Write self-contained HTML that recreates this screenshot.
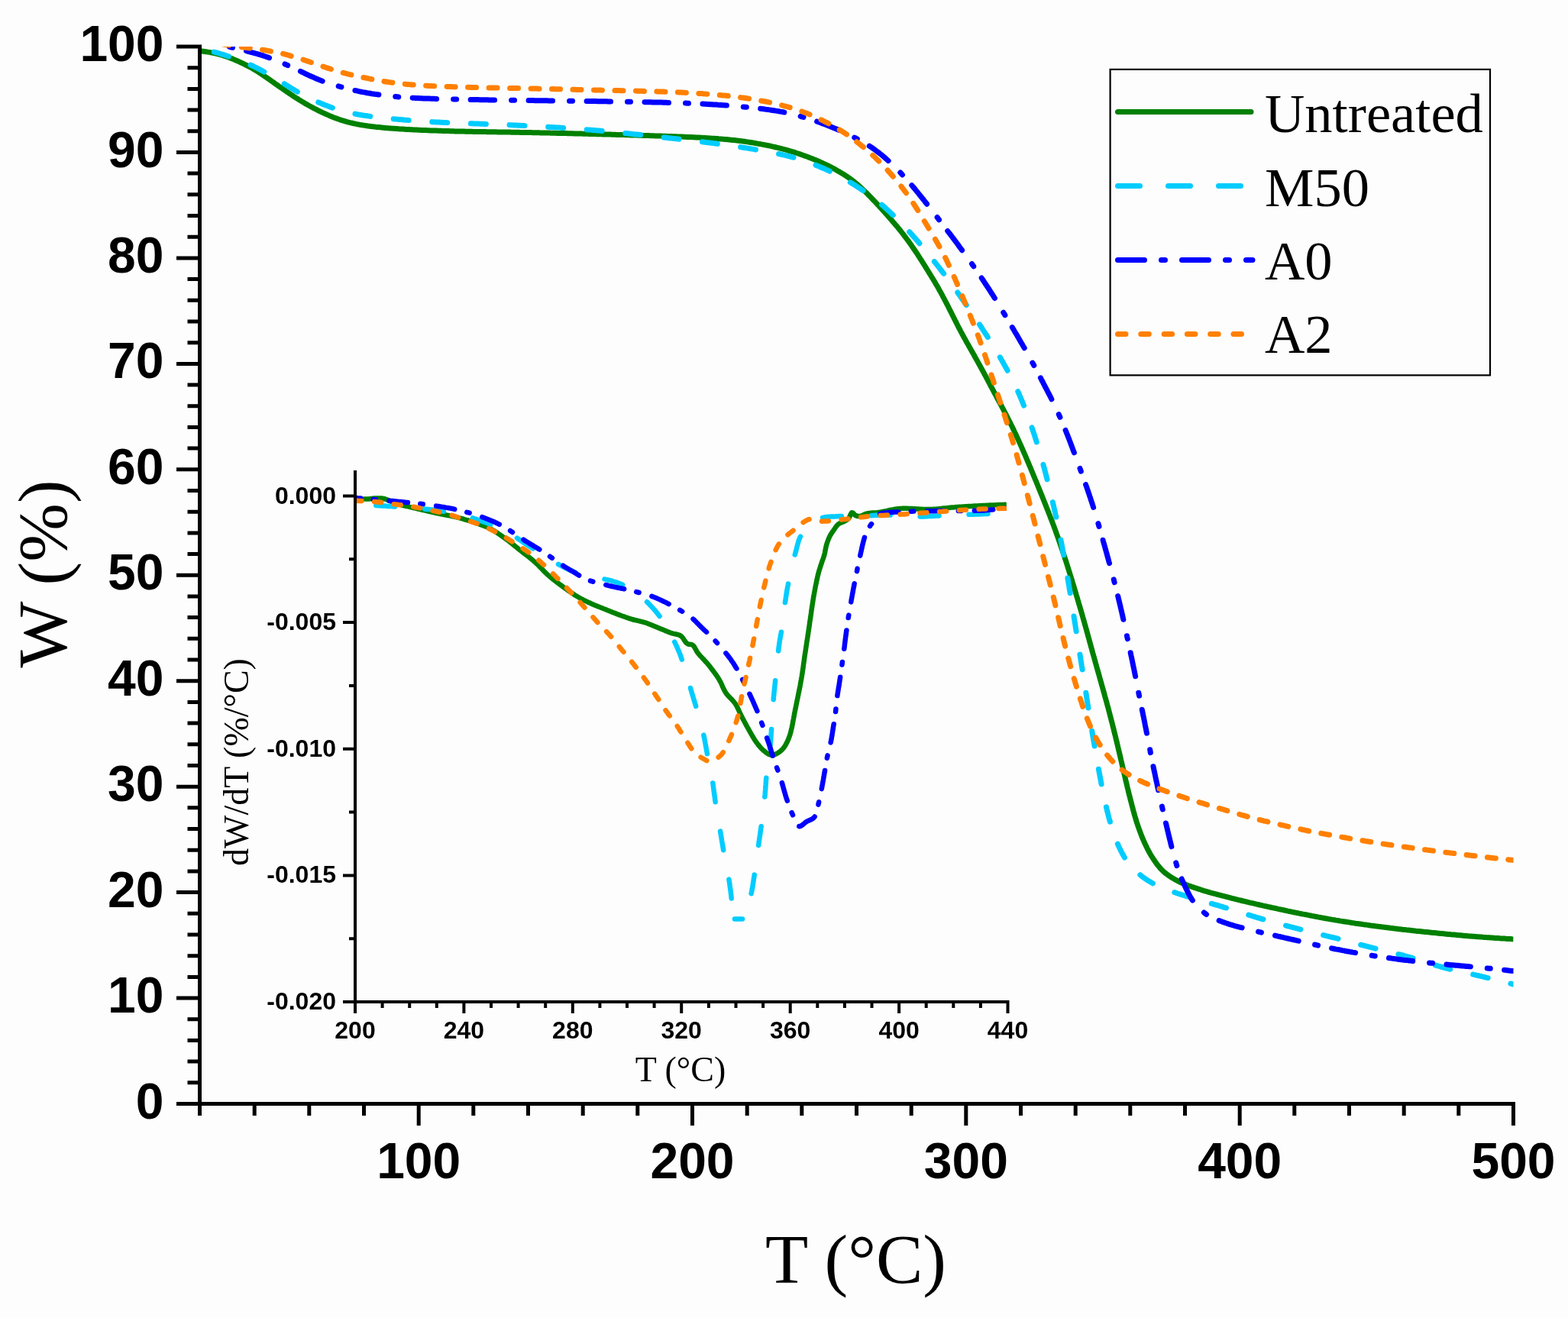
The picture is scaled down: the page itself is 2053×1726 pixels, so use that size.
<!DOCTYPE html>
<html><head><meta charset="utf-8"><title>TGA curves</title>
<style>html,body{margin:0;padding:0;background:#fdfdfd;}svg{display:block;}.sb{font-family:"Liberation Sans",Arial,sans-serif;font-weight:bold;fill:#000;}.sr{font-family:"Liberation Serif","Times New Roman",serif;fill:#000;}</style>
</head><body>
<svg width="2053" height="1726" viewBox="0 0 2053 1726">
<rect width="2053" height="1726" fill="#fdfdfd"/>
<defs><clipPath id="mclip"><rect x="261.5" y="61" width="1720" height="1384.5"/></clipPath><clipPath id="iclip"><rect x="465" y="600" width="853" height="712"/></clipPath></defs>
<g clip-path="url(#mclip)" fill="none" stroke-linejoin="round">
<path d="M262 66.6L264 66.9 265.9 67.2 267.9 67.5 269.9 67.8 271.9 68.1 273.8 68.4 275.8 68.8 277.8 69.1 279.7 69.5 281.7 69.9 283.6 70.4 285.6 70.9 287.5 71.4 289.4 71.9 291.4 72.5 293.3 73.1 295.2 73.7 297.1 74.3 299 75 300.8 75.7 302.7 76.4 304.6 77.1 306.4 77.9 308.2 78.7 310.1 79.5 311.9 80.3 313.7 81.1 315.5 82 317.3 82.8 319.1 83.7 320.9 84.6 322.7 85.5 324.5 86.4 326.2 87.3 328 88.3 329.8 89.3 331.5 90.2 333.2 91.3 334.9 92.3 336.6 93.3 338.3 94.4 340 95.5 341.7 96.6 343.3 97.7 345 98.8 346.6 100 348.3 101.1 349.9 102.2 351.6 103.3 353.2 104.5 354.8 105.6 356.5 106.8 358.1 107.9 359.7 109.1 361.4 110.3 363 111.4 364.6 112.6 366.3 113.7 367.9 114.8 369.6 116 371.2 117.1 372.9 118.2 374.5 119.4 376.1 120.5 377.8 121.6 379.4 122.8 381.1 123.9 382.8 125 384.4 126.1 386.1 127.2 387.8 128.2 389.5 129.3 391.2 130.4 392.9 131.4 394.6 132.5 396.3 133.5 398 134.5 399.7 135.6 401.5 136.6 403.2 137.6 404.9 138.5 406.7 139.5 408.4 140.4 410.2 141.4 412 142.3 413.8 143.2 415.5 144.1 417.3 145 419.1 145.9 420.9 146.8 422.7 147.6 424.6 148.4 426.4 149.3 428.2 150.1 430 150.9 431.9 151.7 433.7 152.4 435.6 153.2 437.4 153.9 439.3 154.7 441.2 155.3 443 156 444.9 156.7 446.8 157.3 448.7 157.9 450.7 158.5 452.6 159 454.5 159.6 456.4 160.1 458.4 160.6 460.3 161 462.3 161.5 464.2 161.9 466.2 162.4 468.1 162.7 470.1 163.1 472 163.5 474 163.8 476 164.1 478 164.4 479.9 164.7 481.9 165 483.9 165.2 485.9 165.5 487.9 165.7 489.9 165.9 491.8 166.2 493.8 166.4 495.8 166.6 497.8 166.8 499.8 167 501.8 167.2 503.8 167.4 505.8 167.6 507.8 167.7 509.8 167.9 511.7 168 513.7 168.2 515.7 168.3 517.7 168.5 519.7 168.6 521.7 168.7 523.7 168.9 525.7 169 527.7 169.1 529.7 169.2 531.7 169.4 533.7 169.5 535.7 169.6 537.7 169.7 539.7 169.8 541.7 169.9 543.7 170 545.7 170.1 547.7 170.2 549.6 170.3 551.6 170.4 553.6 170.5 555.6 170.5 557.6 170.6 559.6 170.7 561.6 170.8 563.6 170.9 565.6 170.9 567.6 171 569.6 171.1 571.6 171.1 573.6 171.2 575.6 171.3 577.6 171.3 579.6 171.4 581.6 171.5 583.6 171.5 585.6 171.6 587.6 171.6 589.6 171.7 591.6 171.8 593.6 171.8 595.6 171.9 597.6 171.9 599.6 171.9 601.6 172 603.6 172 605.6 172.1 607.6 172.1 609.6 172.2 611.6 172.2 613.6 172.3 615.6 172.3 617.6 172.3 619.6 172.4 621.6 172.4 623.6 172.4 625.6 172.5 627.6 172.5 629.6 172.5 631.6 172.6 633.6 172.6 635.6 172.6 637.6 172.7 639.6 172.7 641.6 172.7 643.5 172.7 645.5 172.8 647.5 172.8 649.5 172.8 651.5 172.9 653.5 172.9 655.5 172.9 657.5 173 659.5 173 661.5 173 663.5 173.1 665.5 173.1 667.5 173.1 669.5 173.2 671.5 173.2 673.5 173.2 675.5 173.3 677.5 173.3 679.5 173.3 681.5 173.4 683.5 173.4 685.5 173.5 687.5 173.5 689.5 173.5 691.5 173.6 693.5 173.6 695.5 173.6 697.5 173.7 699.5 173.7 701.5 173.8 703.5 173.8 705.5 173.8 707.5 173.9 709.5 173.9 711.5 174 713.5 174 715.5 174 717.5 174.1 719.5 174.1 721.5 174.2 723.5 174.2 725.5 174.3 727.5 174.3 729.5 174.4 731.5 174.4 733.5 174.4 735.5 174.5 737.5 174.5 739.5 174.6 741.5 174.6 743.5 174.7 745.5 174.7 747.5 174.8 749.5 174.8 751.5 174.9 753.5 174.9 755.4 175 757.4 175 759.4 175.1 761.4 175.1 763.4 175.2 765.4 175.2 767.4 175.3 769.4 175.3 771.4 175.4 773.4 175.4 775.4 175.5 777.4 175.5 779.4 175.6 781.4 175.7 783.4 175.7 785.4 175.8 787.4 175.8 789.4 175.9 791.4 175.9 793.4 176 795.4 176 797.4 176.1 799.4 176.1 801.4 176.2 803.4 176.2 805.4 176.3 807.4 176.4 809.4 176.4 811.4 176.5 813.4 176.5 815.4 176.6 817.4 176.6 819.4 176.7 821.4 176.8 823.4 176.8 825.4 176.9 827.4 176.9 829.4 177 831.4 177 833.4 177.1 835.4 177.2 837.4 177.2 839.4 177.3 841.4 177.4 843.4 177.4 845.4 177.5 847.4 177.5 849.3 177.6 851.3 177.7 853.3 177.7 855.3 177.8 857.3 177.9 859.3 177.9 861.3 178 863.3 178.1 865.3 178.1 867.3 178.2 869.3 178.3 871.3 178.3 873.3 178.4 875.3 178.5 877.3 178.6 879.3 178.6 881.3 178.7 883.3 178.8 885.3 178.8 887.3 178.9 889.3 179 891.3 179.1 893.3 179.1 895.3 179.2 897.3 179.3 899.3 179.4 901.3 179.4 903.3 179.5 905.3 179.6 907.3 179.7 909.3 179.8 911.3 179.9 913.3 180 915.3 180.1 917.3 180.2 919.2 180.3 921.2 180.4 923.2 180.5 925.2 180.7 927.2 180.8 929.2 180.9 931.2 181.1 933.2 181.2 935.2 181.3 937.2 181.5 939.2 181.6 941.2 181.8 943.2 181.9 945.2 182.1 947.2 182.2 949.2 182.4 951.1 182.6 953.1 182.8 955.1 183 957.1 183.2 959.1 183.4 961.1 183.6 963.1 183.8 965.1 184.1 967 184.3 969 184.6 971 184.8 973 185.1 975 185.3 976.9 185.6 978.9 185.9 980.9 186.2 982.9 186.5 984.8 186.8 986.8 187.1 988.8 187.5 990.8 187.8 992.7 188.2 994.7 188.5 996.7 188.9 998.6 189.2 1000.6 189.6 1002.5 190 1004.5 190.4 1006.5 190.8 1008.4 191.2 1010.4 191.7 1012.3 192.1 1014.3 192.5 1016.2 193 1018.2 193.4 1020.1 193.9 1022.1 194.4 1024 194.9 1025.9 195.4 1027.9 195.9 1029.8 196.4 1031.7 197 1033.6 197.5 1035.5 198.1 1037.5 198.7 1039.4 199.2 1041.3 199.8 1043.2 200.5 1045.1 201.1 1047 201.7 1048.9 202.4 1050.7 203 1052.6 203.7 1054.5 204.4 1056.4 205 1058.3 205.7 1060.1 206.5 1062 207.2 1063.9 207.9 1065.7 208.7 1067.6 209.4 1069.4 210.2 1071.2 211 1073.1 211.8 1074.9 212.6 1076.7 213.4 1078.5 214.3 1080.3 215.1 1082.1 216 1083.9 216.8 1085.7 217.7 1087.5 218.6 1089.3 219.6 1091.1 220.5 1092.8 221.4 1094.6 222.4 1096.3 223.4 1098 224.4 1099.8 225.4 1101.5 226.4 1103.2 227.4 1104.9 228.5 1106.6 229.6 1108.2 230.7 1109.9 231.8 1111.5 232.9 1113.2 234.1 1114.8 235.3 1116.4 236.5 1118 237.7 1119.5 239 1121 240.2 1122.6 241.5 1124.1 242.9 1125.5 244.2 1127 245.5 1128.5 246.9 1129.9 248.3 1131.4 249.6 1132.8 251 1134.3 252.4 1135.7 253.8 1137.1 255.3 1138.5 256.7 1139.9 258.1 1141.3 259.6 1142.6 261 1144 262.5 1145.4 263.9 1146.8 265.4 1148.1 266.8 1149.5 268.3 1150.8 269.8 1152.2 271.2 1153.5 272.7 1154.9 274.2 1156.2 275.7 1157.6 277.1 1158.9 278.6 1160.2 280.1 1161.6 281.6 1162.9 283.1 1164.2 284.6 1165.5 286.1 1166.8 287.6 1168.1 289.1 1169.4 290.7 1170.7 292.2 1172 293.7 1173.3 295.2 1174.6 296.8 1175.9 298.3 1177.1 299.9 1178.4 301.4 1179.6 303 1180.9 304.6 1182.1 306.1 1183.3 307.7 1184.5 309.3 1185.7 310.9 1186.9 312.5 1188.1 314.1 1189.3 315.7 1190.5 317.3 1191.6 318.9 1192.8 320.6 1193.9 322.2 1195.1 323.9 1196.2 325.5 1197.3 327.2 1198.5 328.8 1199.6 330.5 1200.7 332.1 1201.8 333.8 1202.9 335.5 1203.9 337.2 1205 338.9 1206.1 340.5 1207.2 342.2 1208.2 343.9 1209.3 345.6 1210.4 347.3 1211.4 349 1212.5 350.7 1213.5 352.4 1214.6 354.1 1215.6 355.8 1216.7 357.5 1217.7 359.2 1218.8 360.9 1219.8 362.6 1220.9 364.3 1221.9 366 1222.9 367.7 1224 369.4 1225 371.2 1226 372.9 1227 374.6 1228 376.3 1229 378.1 1229.9 379.8 1230.9 381.6 1231.9 383.3 1232.8 385.1 1233.8 386.8 1234.7 388.6 1235.7 390.4 1236.6 392.1 1237.5 393.9 1238.5 395.7 1239.4 397.5 1240.3 399.2 1241.2 401 1242.1 402.8 1243 404.6 1243.9 406.4 1244.8 408.2 1245.7 409.9 1246.6 411.7 1247.5 413.5 1248.4 415.3 1249.3 417.1 1250.2 418.9 1251.1 420.6 1252 422.4 1252.9 424.2 1253.8 426 1254.7 427.8 1255.6 429.5 1256.6 431.3 1257.5 433.1 1258.4 434.8 1259.4 436.6 1260.3 438.4 1261.3 440.1 1262.2 441.9 1263.2 443.6 1264.2 445.4 1265.1 447.1 1266.1 448.9 1267.1 450.6 1268.1 452.3 1269 454.1 1270 455.8 1271 457.6 1272 459.3 1273 461 1274 462.8 1275 464.5 1276 466.3 1276.9 468 1277.9 469.7 1278.9 471.5 1279.9 473.2 1280.8 475 1281.8 476.7 1282.8 478.5 1283.7 480.2 1284.7 482 1285.6 483.7 1286.6 485.5 1287.6 487.3 1288.5 489 1289.4 490.8 1290.4 492.5 1291.3 494.3 1292.3 496.1 1293.2 497.8 1294.1 499.6 1295.1 501.4 1296 503.1 1296.9 504.9 1297.9 506.7 1298.8 508.4 1299.8 510.2 1300.7 511.9 1301.6 513.7 1302.6 515.5 1303.5 517.2 1304.5 519 1305.4 520.8 1306.3 522.5 1307.3 524.3 1308.2 526.1 1309.2 527.8 1310.1 529.6 1311.1 531.3 1312 533.1 1313 534.9 1313.9 536.6 1314.8 538.4 1315.7 540.2 1316.7 541.9 1317.6 543.7 1318.5 545.5 1319.4 547.3 1320.3 549.1 1321.2 550.8 1322.1 552.6 1323 554.4 1323.9 556.2 1324.8 558 1325.7 559.8 1326.5 561.6 1327.4 563.4 1328.2 565.2 1329.1 567 1330 568.8 1330.8 570.6 1331.6 572.4 1332.5 574.3 1333.3 576.1 1334.1 577.9 1334.9 579.7 1335.8 581.5 1336.6 583.4 1337.4 585.2 1338.2 587 1339 588.9 1339.8 590.7 1340.6 592.5 1341.4 594.4 1342.2 596.2 1343 598 1343.7 599.9 1344.5 601.7 1345.3 603.5 1346.1 605.4 1346.9 607.2 1347.6 609.1 1348.4 610.9 1349.2 612.7 1350 614.6 1350.7 616.4 1351.5 618.3 1352.3 620.1 1353 622 1353.8 623.8 1354.6 625.7 1355.3 627.5 1356.1 629.4 1356.9 631.2 1357.6 633.1 1358.4 634.9 1359.1 636.8 1359.9 638.6 1360.6 640.5 1361.4 642.3 1362.1 644.2 1362.9 646 1363.6 647.9 1364.4 649.7 1365.1 651.6 1365.9 653.4 1366.6 655.3 1367.3 657.1 1368.1 659 1368.8 660.9 1369.6 662.7 1370.3 664.6 1371 666.4 1371.8 668.3 1372.5 670.1 1373.2 672 1374 673.9 1374.7 675.7 1375.4 677.6 1376.1 679.5 1376.9 681.3 1377.6 683.2 1378.3 685.1 1379 686.9 1379.7 688.8 1380.4 690.7 1381.1 692.6 1381.8 694.4 1382.4 696.3 1383.1 698.2 1383.8 700.1 1384.5 702 1385.1 703.8 1385.8 705.7 1386.5 707.6 1387.1 709.5 1387.8 711.4 1388.4 713.3 1389.1 715.2 1389.7 717.1 1390.3 719 1391 720.8 1391.6 722.7 1392.2 724.6 1392.9 726.5 1393.5 728.4 1394.1 730.3 1394.7 732.2 1395.4 734.1 1396 736 1396.6 737.9 1397.2 739.8 1397.8 741.7 1398.4 743.6 1399 745.6 1399.6 747.5 1400.2 749.4 1400.8 751.3 1401.4 753.2 1402 755.1 1402.6 757 1403.2 758.9 1403.8 760.8 1404.3 762.7 1404.9 764.7 1405.5 766.6 1406.1 768.5 1406.6 770.4 1407.2 772.3 1407.8 774.2 1408.4 776.1 1408.9 778 1409.5 780 1410.1 781.9 1410.7 783.8 1411.2 785.7 1411.8 787.6 1412.3 789.5 1412.9 791.5 1413.5 793.4 1414 795.3 1414.6 797.2 1415.2 799.1 1415.7 801.1 1416.3 803 1416.8 804.9 1417.4 806.8 1417.9 808.7 1418.5 810.7 1419 812.6 1419.6 814.5 1420.1 816.4 1420.7 818.4 1421.2 820.3 1421.7 822.2 1422.3 824.1 1422.8 826 1423.3 828 1423.9 829.9 1424.4 831.8 1424.9 833.8 1425.5 835.7 1426 837.6 1426.5 839.5 1427 841.5 1427.6 843.4 1428.1 845.3 1428.6 847.3 1429.2 849.2 1429.7 851.1 1430.2 853 1430.7 855 1431.3 856.9 1431.8 858.8 1432.4 860.7 1432.9 862.7 1433.4 864.6 1434 866.5 1434.5 868.4 1435.1 870.4 1435.6 872.3 1436.1 874.2 1436.7 876.1 1437.2 878.1 1437.8 880 1438.3 881.9 1438.9 883.8 1439.4 885.7 1439.9 887.7 1440.5 889.6 1441 891.5 1441.6 893.4 1442.1 895.4 1442.6 897.3 1443.2 899.2 1443.7 901.1 1444.3 903.1 1444.8 905 1445.3 906.9 1445.9 908.8 1446.4 910.8 1446.9 912.7 1447.5 914.6 1448 916.5 1448.6 918.5 1449.1 920.4 1449.6 922.3 1450.1 924.2 1450.7 926.2 1451.2 928.1 1451.7 930 1452.2 932 1452.7 933.9 1453.2 935.8 1453.7 937.8 1454.2 939.7 1454.7 941.6 1455.2 943.6 1455.7 945.5 1456.2 947.4 1456.7 949.4 1457.2 951.3 1457.7 953.3 1458.2 955.2 1458.6 957.1 1459.1 959.1 1459.6 961 1460.1 963 1460.6 964.9 1461 966.8 1461.5 968.8 1462 970.7 1462.4 972.7 1462.9 974.6 1463.4 976.6 1463.8 978.5 1464.3 980.5 1464.7 982.4 1465.2 984.3 1465.7 986.3 1466.1 988.2 1466.6 990.2 1467 992.1 1467.5 994.1 1467.9 996 1468.4 998 1468.8 999.9 1469.3 1001.9 1469.7 1003.8 1470.2 1005.8 1470.7 1007.7 1471.1 1009.6 1471.6 1011.6 1472 1013.5 1472.5 1015.5 1472.9 1017.4 1473.4 1019.4 1473.8 1021.3 1474.3 1023.3 1474.8 1025.2 1475.2 1027.2 1475.7 1029.1 1476.1 1031 1476.6 1033 1477.1 1034.9 1477.5 1036.9 1478 1038.8 1478.5 1040.8 1479 1042.7 1479.5 1044.6 1480 1046.6 1480.5 1048.5 1481 1050.4 1481.5 1052.4 1482 1054.3 1482.5 1056.2 1483 1058.2 1483.5 1060.1 1484 1062 1484.6 1064 1485.1 1065.9 1485.6 1067.8 1486.2 1069.7 1486.8 1071.6 1487.3 1073.6 1487.9 1075.5 1488.5 1077.4 1489.2 1079.3 1489.8 1081.2 1490.5 1083.1 1491.1 1084.9 1491.8 1086.8 1492.5 1088.7 1493.2 1090.6 1493.9 1092.4 1494.6 1094.3 1495.3 1096.2 1496.1 1098 1496.9 1099.9 1497.7 1101.7 1498.5 1103.5 1499.3 1105.3 1500.2 1107.1 1501.1 1108.9 1501.9 1110.7 1502.8 1112.5 1503.8 1114.3 1504.7 1116 1505.7 1117.8 1506.7 1119.5 1507.7 1121.2 1508.8 1122.9 1509.9 1124.6 1511 1126.2 1512.1 1127.9 1513.3 1129.5 1514.4 1131.2 1515.6 1132.8 1516.9 1134.3 1518.2 1135.9 1519.5 1137.4 1520.8 1138.8 1522.3 1140.2 1523.7 1141.6 1525.2 1142.9 1526.8 1144.1 1528.4 1145.3 1530 1146.5 1531.7 1147.6 1533.3 1148.7 1535 1149.8 1536.8 1150.8 1538.5 1151.8 1540.2 1152.7 1542 1153.7 1543.8 1154.6 1545.6 1155.5 1547.4 1156.3 1549.3 1157.1 1551.1 1157.8 1553 1158.6 1554.8 1159.3 1556.7 1160 1558.6 1160.6 1560.5 1161.3 1562.4 1161.9 1564.3 1162.6 1566.2 1163.2 1568.1 1163.8 1570 1164.4 1571.9 1165 1573.8 1165.7 1575.7 1166.3 1577.6 1166.8 1579.5 1167.4 1581.4 1168 1583.3 1168.5 1585.3 1169.1 1587.2 1169.6 1589.1 1170.1 1591.1 1170.6 1593 1171.1 1594.9 1171.7 1596.8 1172.2 1598.8 1172.7 1600.7 1173.2 1602.7 1173.7 1604.6 1174.2 1606.5 1174.7 1608.5 1175.2 1610.4 1175.7 1612.3 1176.2 1614.3 1176.6 1616.2 1177.1 1618.1 1177.6 1620.1 1178.1 1622 1178.6 1624 1179 1625.9 1179.5 1627.9 1180 1629.8 1180.4 1631.7 1180.9 1633.7 1181.4 1635.6 1181.8 1637.6 1182.3 1639.5 1182.7 1641.5 1183.2 1643.4 1183.6 1645.4 1184.1 1647.3 1184.5 1649.3 1185 1651.2 1185.4 1653.2 1185.9 1655.1 1186.3 1657.1 1186.7 1659 1187.2 1661 1187.6 1662.9 1188 1664.9 1188.5 1666.8 1188.9 1668.8 1189.3 1670.7 1189.7 1672.7 1190.2 1674.6 1190.6 1676.6 1191 1678.5 1191.4 1680.5 1191.8 1682.5 1192.2 1684.4 1192.6 1686.4 1193.1 1688.3 1193.5 1690.3 1193.9 1692.2 1194.3 1694.2 1194.7 1696.2 1195.1 1698.1 1195.5 1700.1 1195.9 1702 1196.3 1704 1196.7 1706 1197.1 1707.9 1197.4 1709.9 1197.8 1711.8 1198.2 1713.8 1198.6 1715.8 1199 1717.7 1199.4 1719.7 1199.7 1721.6 1200.1 1723.6 1200.5 1725.6 1200.9 1727.5 1201.2 1729.5 1201.6 1731.5 1202 1733.4 1202.3 1735.4 1202.7 1737.4 1203 1739.3 1203.4 1741.3 1203.7 1743.3 1204.1 1745.2 1204.4 1747.2 1204.7 1749.2 1205.1 1751.2 1205.4 1753.1 1205.7 1755.1 1206.1 1757.1 1206.4 1759 1206.7 1761 1207 1763 1207.3 1765 1207.6 1766.9 1207.9 1768.9 1208.3 1770.9 1208.6 1772.9 1208.9 1774.8 1209.2 1776.8 1209.4 1778.8 1209.7 1780.8 1210 1782.8 1210.3 1784.7 1210.6 1786.7 1210.9 1788.7 1211.1 1790.7 1211.4 1792.6 1211.7 1794.6 1212 1796.6 1212.2 1798.6 1212.5 1800.6 1212.8 1802.6 1213 1804.5 1213.3 1806.5 1213.5 1808.5 1213.8 1810.5 1214.1 1812.5 1214.3 1814.4 1214.6 1816.4 1214.8 1818.4 1215 1820.4 1215.3 1822.4 1215.5 1824.4 1215.8 1826.4 1216 1828.3 1216.2 1830.3 1216.5 1832.3 1216.7 1834.3 1216.9 1836.3 1217.2 1838.3 1217.4 1840.2 1217.6 1842.2 1217.9 1844.2 1218.1 1846.2 1218.3 1848.2 1218.5 1850.2 1218.7 1852.2 1218.9 1854.2 1219.2 1856.1 1219.4 1858.1 1219.6 1860.1 1219.8 1862.1 1220 1864.1 1220.2 1866.1 1220.4 1868.1 1220.6 1870.1 1220.8 1872 1221 1874 1221.2 1876 1221.4 1878 1221.6 1880 1221.8 1882 1222 1884 1222.2 1886 1222.4 1888 1222.6 1889.9 1222.8 1891.9 1223 1893.9 1223.2 1895.9 1223.4 1897.9 1223.6 1899.9 1223.8 1901.9 1223.9 1903.9 1224.1 1905.9 1224.3 1907.9 1224.5 1909.8 1224.7 1911.8 1224.8 1913.8 1225 1915.8 1225.2 1917.8 1225.4 1919.8 1225.5 1921.8 1225.7 1923.8 1225.9 1925.8 1226 1927.8 1226.2 1929.8 1226.3 1931.8 1226.5 1933.7 1226.7 1935.7 1226.8 1937.7 1227 1939.7 1227.1 1941.7 1227.3 1943.7 1227.4 1945.7 1227.6 1947.7 1227.7 1949.7 1227.8 1951.7 1228 1953.7 1228.1 1955.7 1228.2 1957.7 1228.4 1959.7 1228.5 1961.7 1228.6 1963.6 1228.8 1965.6 1228.9 1967.6 1229 1969.6 1229.1 1971.6 1229.3 1973.6 1229.4 1975.6 1229.5 1977.6 1229.6 1979.6 1229.8 1981.6 1229.9" stroke="#008000" stroke-width="7"/>
<path d="M262 63.6L263.9 64.1 265.9 64.5 267.8 65 269.8 65.4 271.7 65.9 273.7 66.3 275.6 66.8 277.6 67.3 279.5 67.8 281.4 68.3 283.4 68.9 285.3 69.4 287.2 70 289.1 70.6 291 71.1 292.9 71.7 294.8 72.3 296.7 73 298.6 73.6 300.5 74.2 302.4 74.9 304.3 75.6 306.2 76.2 308.1 76.9 309.9 77.6 311.8 78.3 313.7 79 315.5 79.8 317.4 80.5 319.2 81.3 321.1 82 322.9 82.8 324.8 83.6 326.6 84.4 328.4 85.2 330.2 86 332 86.9 333.8 87.8 335.6 88.7 337.4 89.6 339.2 90.5 341 91.4 342.7 92.3 344.5 93.3 346.3 94.2 348 95.2 349.8 96.2 351.5 97.2 353.2 98.1 354.9 99.2 356.7 100.2 358.4 101.2 360.1 102.3 361.8 103.3 363.5 104.4 365.2 105.4 366.9 106.5 368.6 107.5 370.3 108.6 372 109.6 373.7 110.7 375.4 111.7 377.1 112.8 378.8 113.8 380.5 114.9 382.2 115.9 383.9 116.9 385.6 118 387.4 119 389.1 120 390.8 121 392.6 121.9 394.3 122.9 396.1 123.8 397.8 124.8 399.6 125.7 401.4 126.7 403.2 127.6 404.9 128.5 406.7 129.4 408.5 130.2 410.3 131.1 412.2 131.9 414 132.7 415.8 133.6 417.6 134.3 419.5 135.1 421.3 135.9 423.2 136.6 425.1 137.4 426.9 138.1 428.8 138.8 430.7 139.5 432.5 140.2 434.4 140.8 436.3 141.5 438.2 142.1 440.1 142.7 442 143.3 443.9 143.9 445.9 144.5 447.8 145 449.7 145.6 451.6 146.1 453.6 146.6 455.5 147.1 457.4 147.5 459.4 148 461.3 148.4 463.3 148.8 465.3 149.2 467.2 149.6 469.2 150 471.2 150.3 473.1 150.6 475.1 151 477.1 151.3 479.1 151.5 481 151.8 483 152.1 485 152.4 487 152.6 489 152.9 491 153.1 492.9 153.4 494.9 153.6 496.9 153.9 498.9 154.1 500.9 154.3 502.9 154.5 504.9 154.8 506.8 155 508.8 155.2 510.8 155.4 512.8 155.6 514.8 155.7 516.8 155.9 518.8 156.1 520.8 156.3 522.8 156.5 524.8 156.6 526.8 156.8 528.7 157 530.7 157.2 532.7 157.3 534.7 157.5 536.7 157.6 538.7 157.8 540.7 158 542.7 158.1 544.7 158.2 546.7 158.4 548.7 158.5 550.7 158.7 552.7 158.8 554.7 158.9 556.7 159.1 558.7 159.2 560.6 159.3 562.6 159.4 564.6 159.5 566.6 159.7 568.6 159.8 570.6 159.9 572.6 160 574.6 160.1 576.6 160.2 578.6 160.3 580.6 160.4 582.6 160.5 584.6 160.6 586.6 160.7 588.6 160.7 590.6 160.8 592.6 160.9 594.6 161 596.6 161.1 598.6 161.1 600.6 161.2 602.6 161.3 604.6 161.4 606.6 161.4 608.6 161.5 610.6 161.6 612.6 161.6 614.6 161.7 616.6 161.8 618.6 161.8 620.6 161.9 622.6 162 624.6 162 626.6 162.1 628.6 162.2 630.6 162.2 632.6 162.3 634.6 162.4 636.6 162.4 638.5 162.5 640.5 162.6 642.5 162.7 644.5 162.7 646.5 162.8 648.5 162.9 650.5 163 652.5 163 654.5 163.1 656.5 163.2 658.5 163.3 660.5 163.4 662.5 163.5 664.5 163.5 666.5 163.6 668.5 163.7 670.5 163.8 672.5 163.9 674.5 164 676.5 164.1 678.5 164.2 680.5 164.3 682.5 164.4 684.5 164.5 686.5 164.6 688.5 164.7 690.5 164.8 692.5 164.9 694.5 165 696.5 165.1 698.5 165.2 700.5 165.3 702.5 165.4 704.5 165.5 706.5 165.6 708.4 165.7 710.4 165.8 712.4 166 714.4 166.1 716.4 166.2 718.4 166.3 720.4 166.4 722.4 166.5 724.4 166.7 726.4 166.8 728.4 166.9 730.4 167 732.4 167.1 734.4 167.3 736.4 167.4 738.4 167.5 740.4 167.7 742.4 167.8 744.4 167.9 746.4 168.1 748.4 168.2 750.3 168.4 752.3 168.5 754.3 168.7 756.3 168.8 758.3 169 760.3 169.1 762.3 169.3 764.3 169.4 766.3 169.6 768.3 169.8 770.3 169.9 772.3 170.1 774.3 170.2 776.3 170.4 778.3 170.6 780.2 170.8 782.2 170.9 784.2 171.1 786.2 171.3 788.2 171.5 790.2 171.6 792.2 171.8 794.2 172 796.2 172.2 798.2 172.4 800.2 172.6 802.1 172.8 804.1 173 806.1 173.2 808.1 173.4 810.1 173.6 812.1 173.8 814.1 174 816.1 174.2 818.1 174.4 820 174.6 822 174.8 824 175 826 175.2 828 175.5 830 175.7 832 175.9 834 176.1 835.9 176.3 837.9 176.5 839.9 176.7 841.9 177 843.9 177.2 845.9 177.4 847.9 177.6 849.9 177.8 851.8 178 853.8 178.3 855.8 178.5 857.8 178.7 859.8 178.9 861.8 179.1 863.8 179.3 865.8 179.6 867.7 179.8 869.7 180 871.7 180.2 873.7 180.5 875.7 180.7 877.7 180.9 879.7 181.1 881.7 181.4 883.6 181.6 885.6 181.8 887.6 182 889.6 182.3 891.6 182.5 893.6 182.7 895.6 183 897.5 183.2 899.5 183.4 901.5 183.7 903.5 183.9 905.5 184.1 907.5 184.4 909.5 184.6 911.4 184.8 913.4 185.1 915.4 185.3 917.4 185.5 919.4 185.8 921.4 186 923.3 186.3 925.3 186.5 927.3 186.7 929.3 187 931.3 187.2 933.3 187.5 935.3 187.7 937.2 188 939.2 188.3 941.2 188.5 943.2 188.8 945.2 189.1 947.1 189.3 949.1 189.6 951.1 189.9 953.1 190.2 955.1 190.5 957 190.8 959 191.1 961 191.3 963 191.6 964.9 191.9 966.9 192.2 968.9 192.5 970.9 192.9 972.8 193.2 974.8 193.5 976.8 193.8 978.8 194.1 980.7 194.4 982.7 194.8 984.7 195.1 986.7 195.4 988.6 195.8 990.6 196.1 992.6 196.4 994.5 196.8 996.5 197.2 998.5 197.5 1000.4 197.9 1002.4 198.2 1004.4 198.6 1006.3 198.9 1008.3 199.3 1010.3 199.7 1012.2 200 1014.2 200.4 1016.2 200.8 1018.1 201.2 1020.1 201.6 1022 202 1024 202.5 1025.9 202.9 1027.9 203.4 1029.8 203.8 1031.8 204.3 1033.7 204.8 1035.6 205.3 1037.6 205.8 1039.5 206.4 1041.4 206.9 1043.3 207.5 1045.3 208 1047.2 208.6 1049.1 209.2 1051 209.8 1052.9 210.5 1054.8 211.1 1056.6 211.8 1058.5 212.5 1060.4 213.2 1062.3 213.9 1064.1 214.6 1066 215.4 1067.8 216.1 1069.7 216.9 1071.5 217.6 1073.4 218.4 1075.2 219.2 1077 220 1078.9 220.8 1080.7 221.6 1082.5 222.4 1084.3 223.3 1086.1 224.1 1087.9 225 1089.7 225.9 1091.5 226.8 1093.3 227.7 1095.1 228.6 1096.9 229.5 1098.6 230.4 1100.4 231.4 1102.1 232.3 1103.9 233.3 1105.6 234.3 1107.4 235.3 1109.1 236.3 1110.8 237.3 1112.5 238.3 1114.2 239.4 1116 240.4 1117.7 241.5 1119.4 242.5 1121 243.6 1122.7 244.7 1124.4 245.8 1126.1 246.9 1127.7 248 1129.4 249.1 1131.1 250.2 1132.7 251.3 1134.3 252.5 1136 253.6 1137.6 254.8 1139.2 256 1140.8 257.2 1142.4 258.4 1144 259.6 1145.6 260.8 1147.1 262.1 1148.7 263.3 1150.3 264.6 1151.8 265.8 1153.3 267.1 1154.8 268.4 1156.4 269.7 1157.9 271.1 1159.3 272.4 1160.8 273.7 1162.3 275.1 1163.8 276.4 1165.2 277.8 1166.7 279.2 1168.1 280.6 1169.6 282 1171 283.4 1172.4 284.8 1173.8 286.2 1175.2 287.6 1176.7 289 1178.1 290.4 1179.5 291.9 1180.8 293.3 1182.2 294.7 1183.6 296.2 1185 297.6 1186.4 299.1 1187.7 300.5 1189.1 302 1190.5 303.5 1191.8 304.9 1193.2 306.4 1194.5 307.9 1195.8 309.4 1197.2 310.9 1198.5 312.4 1199.8 313.9 1201.1 315.4 1202.4 316.9 1203.7 318.4 1205 320 1206.3 321.5 1207.6 323 1208.9 324.6 1210.1 326.1 1211.4 327.6 1212.7 329.2 1213.9 330.7 1215.2 332.3 1216.4 333.8 1217.7 335.4 1218.9 337 1220.2 338.5 1221.4 340.1 1222.7 341.7 1223.9 343.2 1225.2 344.8 1226.4 346.4 1227.6 347.9 1228.9 349.5 1230.1 351.1 1231.3 352.7 1232.5 354.3 1233.7 355.8 1234.9 357.4 1236.2 359 1237.4 360.6 1238.6 362.2 1239.8 363.8 1241 365.4 1242.1 367 1243.3 368.7 1244.5 370.3 1245.7 371.9 1246.9 373.5 1248 375.1 1249.2 376.7 1250.4 378.3 1251.6 380 1252.7 381.6 1253.9 383.2 1255 384.8 1256.2 386.5 1257.4 388.1 1258.5 389.7 1259.7 391.4 1260.8 393 1262 394.7 1263.1 396.3 1264.2 397.9 1265.4 399.6 1266.5 401.2 1267.7 402.9 1268.8 404.5 1269.9 406.2 1271 407.8 1272.2 409.5 1273.3 411.1 1274.4 412.8 1275.5 414.4 1276.6 416.1 1277.8 417.8 1278.9 419.4 1280 421.1 1281.1 422.8 1282.2 424.4 1283.3 426.1 1284.4 427.8 1285.5 429.4 1286.5 431.1 1287.6 432.8 1288.7 434.5 1289.8 436.2 1290.9 437.8 1292 439.5 1293 441.2 1294.1 442.9 1295.2 444.6 1296.2 446.3 1297.3 448 1298.3 449.7 1299.4 451.4 1300.4 453.1 1301.5 454.8 1302.5 456.5 1303.6 458.2 1304.6 459.9 1305.6 461.6 1306.6 463.4 1307.6 465.1 1308.7 466.8 1309.7 468.5 1310.7 470.3 1311.7 472 1312.7 473.7 1313.7 475.5 1314.6 477.2 1315.6 478.9 1316.6 480.7 1317.6 482.4 1318.5 484.2 1319.5 485.9 1320.4 487.7 1321.4 489.5 1322.3 491.2 1323.2 493 1324.2 494.8 1325.1 496.6 1326 498.3 1326.9 500.1 1327.8 501.9 1328.6 503.7 1329.5 505.5 1330.3 507.3 1331.2 509.1 1332 511 1332.8 512.8 1333.6 514.6 1334.5 516.4 1335.2 518.3 1336 520.1 1336.8 522 1337.6 523.8 1338.3 525.7 1339.1 527.5 1339.8 529.4 1340.6 531.2 1341.3 533.1 1342.1 534.9 1342.8 536.8 1343.5 538.7 1344.2 540.5 1344.9 542.4 1345.6 544.3 1346.3 546.2 1346.9 548 1347.6 549.9 1348.3 551.8 1348.9 553.7 1349.6 555.6 1350.2 557.5 1350.9 559.4 1351.5 561.3 1352.2 563.2 1352.8 565.1 1353.4 567 1354.1 568.9 1354.7 570.8 1355.3 572.7 1355.9 574.6 1356.5 576.5 1357.1 578.4 1357.7 580.3 1358.3 582.2 1358.9 584.1 1359.5 586 1360.1 587.9 1360.6 589.8 1361.2 591.8 1361.8 593.7 1362.3 595.6 1362.9 597.5 1363.4 599.4 1364 601.4 1364.5 603.3 1365.1 605.2 1365.6 607.1 1366.1 609.1 1366.6 611 1367.2 612.9 1367.7 614.9 1368.2 616.8 1368.7 618.7 1369.2 620.7 1369.7 622.6 1370.2 624.5 1370.7 626.5 1371.2 628.4 1371.7 630.3 1372.2 632.3 1372.7 634.2 1373.2 636.2 1373.7 638.1 1374.1 640 1374.6 642 1375.1 643.9 1375.5 645.9 1376 647.8 1376.5 649.8 1376.9 651.7 1377.4 653.6 1377.9 655.6 1378.3 657.5 1378.8 659.5 1379.2 661.4 1379.7 663.4 1380.1 665.3 1380.6 667.3 1381 669.2 1381.5 671.2 1381.9 673.1 1382.3 675.1 1382.8 677 1383.2 679 1383.6 680.9 1384.1 682.9 1384.5 684.8 1384.9 686.8 1385.3 688.8 1385.7 690.7 1386.1 692.7 1386.5 694.6 1386.9 696.6 1387.3 698.5 1387.7 700.5 1388.1 702.5 1388.5 704.4 1388.8 706.4 1389.2 708.4 1389.6 710.3 1390 712.3 1390.3 714.2 1390.7 716.2 1391.1 718.2 1391.4 720.1 1391.8 722.1 1392.2 724.1 1392.5 726 1392.9 728 1393.2 730 1393.6 731.9 1393.9 733.9 1394.3 735.9 1394.6 737.9 1395 739.8 1395.3 741.8 1395.6 743.8 1396 745.7 1396.3 747.7 1396.6 749.7 1397 751.6 1397.3 753.6 1397.7 755.6 1398 757.6 1398.3 759.5 1398.7 761.5 1399 763.5 1399.3 765.4 1399.7 767.4 1400 769.4 1400.3 771.4 1400.6 773.3 1401 775.3 1401.3 777.3 1401.6 779.3 1401.9 781.2 1402.3 783.2 1402.6 785.2 1402.9 787.1 1403.2 789.1 1403.5 791.1 1403.8 793.1 1404.2 795 1404.5 797 1404.8 799 1405.1 801 1405.4 802.9 1405.7 804.9 1406 806.9 1406.3 808.9 1406.6 810.8 1406.9 812.8 1407.2 814.8 1407.6 816.8 1407.9 818.7 1408.2 820.7 1408.5 822.7 1408.8 824.7 1409.1 826.6 1409.4 828.6 1409.7 830.6 1410.1 832.6 1410.4 834.5 1410.7 836.5 1411 838.5 1411.3 840.5 1411.6 842.4 1411.9 844.4 1412.3 846.4 1412.6 848.4 1412.9 850.3 1413.2 852.3 1413.5 854.3 1413.8 856.3 1414.1 858.2 1414.5 860.2 1414.8 862.2 1415.1 864.2 1415.4 866.1 1415.7 868.1 1416 870.1 1416.3 872.1 1416.7 874 1417 876 1417.3 878 1417.6 880 1417.9 881.9 1418.2 883.9 1418.5 885.9 1418.8 887.9 1419.1 889.8 1419.5 891.8 1419.8 893.8 1420.1 895.8 1420.4 897.7 1420.7 899.7 1421 901.7 1421.3 903.7 1421.6 905.6 1421.9 907.6 1422.2 909.6 1422.5 911.6 1422.8 913.5 1423.1 915.5 1423.4 917.5 1423.7 919.5 1424 921.4 1424.4 923.4 1424.7 925.4 1425 927.4 1425.3 929.3 1425.6 931.3 1425.9 933.3 1426.2 935.3 1426.5 937.2 1426.8 939.2 1427.1 941.2 1427.4 943.2 1427.8 945.1 1428.1 947.1 1428.4 949.1 1428.7 951.1 1429.1 953 1429.4 955 1429.7 957 1430 959 1430.4 960.9 1430.7 962.9 1431 964.9 1431.4 966.8 1431.7 968.8 1432 970.8 1432.4 972.7 1432.7 974.7 1433.1 976.7 1433.4 978.7 1433.7 980.6 1434.1 982.6 1434.4 984.6 1434.8 986.5 1435.1 988.5 1435.5 990.5 1435.8 992.4 1436.1 994.4 1436.5 996.4 1436.8 998.4 1437.2 1000.3 1437.5 1002.3 1437.9 1004.3 1438.3 1006.2 1438.6 1008.2 1439 1010.2 1439.3 1012.1 1439.7 1014.1 1440.1 1016.1 1440.4 1018 1440.8 1020 1441.2 1021.9 1441.5 1023.9 1441.9 1025.9 1442.3 1027.8 1442.7 1029.8 1443 1031.8 1443.4 1033.7 1443.8 1035.7 1444.2 1037.7 1444.6 1039.6 1445 1041.6 1445.4 1043.5 1445.8 1045.5 1446.3 1047.4 1446.7 1049.4 1447.2 1051.3 1447.6 1053.3 1448.1 1055.2 1448.5 1057.2 1449 1059.1 1449.4 1061.1 1449.9 1063 1450.4 1064.9 1450.9 1066.9 1451.4 1068.8 1451.9 1070.8 1452.4 1072.7 1453 1074.6 1453.5 1076.5 1454.1 1078.4 1454.7 1080.4 1455.3 1082.3 1455.8 1084.2 1456.4 1086.1 1457 1088 1457.6 1089.9 1458.3 1091.8 1458.9 1093.7 1459.6 1095.6 1460.2 1097.5 1460.9 1099.3 1461.7 1101.2 1462.4 1103.1 1463.2 1104.9 1464 1106.7 1464.8 1108.5 1465.7 1110.3 1466.6 1112.1 1467.5 1113.9 1468.4 1115.7 1469.3 1117.5 1470.3 1119.2 1471.3 1121 1472.3 1122.7 1473.3 1124.4 1474.4 1126.1 1475.5 1127.7 1476.7 1129.3 1477.9 1130.9 1479.2 1132.5 1480.4 1134 1481.8 1135.5 1483.1 1137 1484.5 1138.4 1486 1139.8 1487.4 1141.2 1488.9 1142.5 1490.4 1143.8 1492 1145.1 1493.5 1146.3 1495.1 1147.6 1496.7 1148.8 1498.3 1149.9 1500 1151.1 1501.6 1152.2 1503.3 1153.3 1505 1154.3 1506.7 1155.3 1508.5 1156.3 1510.3 1157.2 1512.1 1158.1 1513.9 1159 1515.7 1159.8 1517.5 1160.6 1519.3 1161.4 1521.2 1162.2 1523 1163 1524.9 1163.7 1526.7 1164.5 1528.6 1165.3 1530.4 1166 1532.3 1166.7 1534.2 1167.4 1536.1 1168.1 1538 1168.7 1539.8 1169.3 1541.7 1170 1543.7 1170.6 1545.6 1171.2 1547.5 1171.8 1549.4 1172.4 1551.3 1173 1553.2 1173.6 1555.1 1174.2 1557 1174.8 1558.9 1175.3 1560.8 1175.9 1562.8 1176.5 1564.7 1177 1566.6 1177.6 1568.5 1178.2 1570.4 1178.7 1572.4 1179.3 1574.3 1179.8 1576.2 1180.4 1578.1 1180.9 1580 1181.5 1582 1182.1 1583.9 1182.6 1585.8 1183.2 1587.7 1183.7 1589.6 1184.3 1591.6 1184.8 1593.5 1185.4 1595.4 1185.9 1597.3 1186.5 1599.2 1187.1 1601.1 1187.7 1603 1188.3 1605 1188.8 1606.9 1189.4 1608.8 1190 1610.7 1190.6 1612.6 1191.2 1614.5 1191.8 1616.4 1192.4 1618.3 1193 1620.2 1193.6 1622.1 1194.2 1624.1 1194.8 1626 1195.4 1627.9 1196 1629.8 1196.6 1631.7 1197.2 1633.6 1197.8 1635.5 1198.3 1637.4 1198.9 1639.3 1199.5 1641.2 1200.1 1643.2 1200.7 1645.1 1201.3 1647 1201.8 1648.9 1202.4 1650.8 1203 1652.7 1203.5 1654.7 1204.1 1656.6 1204.6 1658.5 1205.2 1660.4 1205.7 1662.4 1206.3 1664.3 1206.8 1666.2 1207.3 1668.1 1207.9 1670.1 1208.4 1672 1208.9 1673.9 1209.5 1675.8 1210 1677.8 1210.5 1679.7 1211.1 1681.6 1211.6 1683.5 1212.1 1685.5 1212.6 1687.4 1213.2 1689.3 1213.7 1691.3 1214.2 1693.2 1214.7 1695.1 1215.2 1697.1 1215.7 1699 1216.2 1700.9 1216.7 1702.9 1217.2 1704.8 1217.7 1706.8 1218.2 1708.7 1218.7 1710.6 1219.1 1712.6 1219.6 1714.5 1220.1 1716.5 1220.6 1718.4 1221.1 1720.3 1221.5 1722.3 1222 1724.2 1222.5 1726.2 1223 1728.1 1223.5 1730.1 1223.9 1732 1224.4 1733.9 1224.9 1735.9 1225.4 1737.8 1225.8 1739.8 1226.3 1741.7 1226.8 1743.6 1227.3 1745.6 1227.7 1747.5 1228.2 1749.5 1228.7 1751.4 1229.2 1753.3 1229.7 1755.3 1230.2 1757.2 1230.7 1759.1 1231.2 1761.1 1231.7 1763 1232.2 1764.9 1232.8 1766.9 1233.3 1768.8 1233.8 1770.7 1234.3 1772.7 1234.8 1774.6 1235.4 1776.5 1235.9 1778.5 1236.4 1780.4 1236.9 1782.3 1237.4 1784.3 1237.9 1786.2 1238.4 1788.1 1238.9 1790.1 1239.4 1792 1239.9 1793.9 1240.4 1795.9 1240.9 1797.8 1241.4 1799.7 1241.9 1801.7 1242.4 1803.6 1242.9 1805.6 1243.4 1807.5 1243.8 1809.4 1244.3 1811.4 1244.8 1813.3 1245.2 1815.3 1245.7 1817.2 1246.1 1819.2 1246.6 1821.1 1247.1 1823.1 1247.5 1825 1248 1827 1248.5 1828.9 1249 1830.8 1249.5 1832.8 1250 1834.7 1250.5 1836.6 1251 1838.6 1251.5 1840.5 1252.1 1842.4 1252.6 1844.3 1253.1 1846.3 1253.7 1848.2 1254.2 1850.1 1254.8 1852 1255.3 1853.9 1255.9 1855.8 1256.5 1857.8 1257.1 1859.7 1257.7 1861.6 1258.3 1863.5 1258.9 1865.4 1259.5 1867.3 1260.1 1869.2 1260.8 1871.1 1261.4 1873 1262 1874.9 1262.6 1876.8 1263.2 1878.7 1263.8 1880.6 1264.3 1882.5 1264.9 1884.5 1265.4 1886.4 1266 1888.3 1266.5 1890.2 1267 1892.2 1267.6 1894.1 1268.1 1896 1268.6 1898 1269.1 1899.9 1269.6 1901.9 1270.1 1903.8 1270.5 1905.7 1271 1907.7 1271.5 1909.6 1271.9 1911.6 1272.3 1913.5 1272.7 1915.5 1273.2 1917.5 1273.6 1919.4 1274 1921.4 1274.4 1923.3 1274.9 1925.3 1275.3 1927.2 1275.7 1929.2 1276.2 1931.1 1276.6 1933.1 1277.1 1935 1277.5 1937 1278 1938.9 1278.4 1940.9 1278.9 1942.8 1279.3 1944.7 1279.8 1946.7 1280.3 1948.6 1280.7 1950.6 1281.2 1952.5 1281.7 1954.5 1282.2 1956.4 1282.6 1958.3 1283.1 1960.3 1283.6 1962.2 1284.1 1964.1 1284.6 1966.1 1285.1 1968 1285.6 1970 1286.1 1971.9 1286.6 1973.8 1287.1 1975.8 1287.6 1977.7 1288 1979.7 1288.5 1981.6 1289" stroke="#00ccff" stroke-width="7" stroke-linecap="round" stroke-dasharray="20 30.7" stroke-dashoffset="31.8"/>
<path d="M262 54L264 54.3 265.9 54.7 267.9 55 269.9 55.3 271.9 55.6 273.8 56 275.8 56.3 277.8 56.6 279.7 57 281.7 57.3 283.7 57.7 285.6 58.1 287.6 58.5 289.6 58.9 291.5 59.3 293.5 59.8 295.4 60.2 297.4 60.6 299.3 61.1 301.3 61.5 303.2 62 305.2 62.4 307.1 62.9 309 63.4 311 63.8 312.9 64.3 314.9 64.8 316.8 65.3 318.8 65.7 320.7 66.2 322.6 66.7 324.6 67.3 326.5 67.8 328.4 68.3 330.4 68.8 332.3 69.3 334.2 69.9 336.1 70.4 338.1 71 340 71.5 341.9 72.1 343.8 72.7 345.7 73.3 347.6 74 349.5 74.6 351.4 75.3 353.2 76 355.1 76.7 357 77.4 358.8 78.1 360.7 78.9 362.6 79.6 364.4 80.3 366.3 81.1 368.1 81.9 370 82.6 371.8 83.4 373.6 84.2 375.5 85 377.3 85.8 379.1 86.6 381 87.4 382.8 88.3 384.6 89.1 386.4 89.9 388.2 90.8 390 91.6 391.8 92.5 393.6 93.4 395.4 94.3 397.2 95.2 399 96.1 400.8 97 402.6 97.8 404.4 98.7 406.2 99.5 408 100.3 409.9 101.1 411.7 101.9 413.5 102.7 415.4 103.5 417.2 104.3 419.1 105 420.9 105.7 422.8 106.4 424.7 107.1 426.6 107.7 428.5 108.4 430.4 109 432.3 109.6 434.2 110.2 436.1 110.8 438 111.3 440 111.9 441.9 112.5 443.8 113 445.7 113.6 447.6 114.1 449.6 114.6 451.5 115.2 453.4 115.7 455.4 116.2 457.3 116.7 459.2 117.1 461.2 117.6 463.1 118.1 465.1 118.5 467 118.9 469 119.4 470.9 119.8 472.9 120.2 474.9 120.6 476.8 120.9 478.8 121.3 480.8 121.7 482.7 122 484.7 122.3 486.7 122.7 488.7 123 490.6 123.3 492.6 123.5 494.6 123.8 496.6 124.1 498.6 124.4 500.5 124.6 502.5 124.9 504.5 125.1 506.5 125.3 508.5 125.6 510.5 125.8 512.5 126 514.4 126.2 516.4 126.4 518.4 126.6 520.4 126.8 522.4 127 524.4 127.1 526.4 127.3 528.4 127.4 530.4 127.6 532.4 127.7 534.4 127.9 536.4 128 538.4 128.1 540.4 128.2 542.4 128.3 544.3 128.4 546.3 128.5 548.3 128.6 550.3 128.7 552.3 128.8 554.3 128.9 556.3 128.9 558.3 129 560.3 129.1 562.3 129.1 564.3 129.2 566.3 129.3 568.3 129.3 570.3 129.4 572.3 129.4 574.3 129.5 576.3 129.5 578.3 129.6 580.3 129.6 582.3 129.7 584.3 129.7 586.3 129.8 588.3 129.8 590.3 129.9 592.3 129.9 594.3 130 596.3 130 598.3 130 600.3 130.1 602.3 130.1 604.3 130.2 606.3 130.2 608.3 130.3 610.3 130.3 612.3 130.4 614.3 130.4 616.3 130.4 618.3 130.5 620.3 130.5 622.3 130.5 624.3 130.6 626.3 130.6 628.3 130.7 630.3 130.7 632.3 130.7 634.3 130.8 636.3 130.8 638.3 130.8 640.3 130.9 642.3 130.9 644.3 130.9 646.3 131 648.3 131 650.3 131 652.3 131 654.3 131.1 656.3 131.1 658.3 131.1 660.3 131.2 662.3 131.2 664.3 131.2 666.3 131.2 668.3 131.3 670.3 131.3 672.3 131.3 674.3 131.3 676.3 131.4 678.3 131.4 680.3 131.4 682.3 131.4 684.3 131.5 686.3 131.5 688.3 131.5 690.3 131.5 692.3 131.6 694.3 131.6 696.3 131.6 698.3 131.6 700.3 131.7 702.3 131.7 704.3 131.7 706.3 131.7 708.3 131.7 710.3 131.8 712.3 131.8 714.3 131.8 716.3 131.8 718.3 131.9 720.3 131.9 722.3 131.9 724.3 131.9 726.3 132 728.3 132 730.3 132 732.3 132 734.3 132.1 736.3 132.1 738.3 132.1 740.3 132.1 742.2 132.2 744.2 132.2 746.2 132.2 748.2 132.2 750.2 132.3 752.2 132.3 754.2 132.3 756.2 132.3 758.2 132.4 760.2 132.4 762.2 132.4 764.2 132.4 766.2 132.5 768.2 132.5 770.2 132.5 772.2 132.5 774.2 132.6 776.2 132.6 778.2 132.6 780.2 132.6 782.2 132.7 784.2 132.7 786.2 132.7 788.2 132.7 790.2 132.8 792.2 132.8 794.2 132.8 796.2 132.9 798.2 132.9 800.2 132.9 802.2 132.9 804.2 133 806.2 133 808.2 133 810.2 133.1 812.2 133.1 814.2 133.1 816.2 133.2 818.2 133.2 820.2 133.2 822.2 133.3 824.2 133.3 826.2 133.3 828.2 133.4 830.2 133.4 832.2 133.5 834.2 133.5 836.2 133.5 838.2 133.6 840.2 133.6 842.2 133.6 844.2 133.7 846.2 133.7 848.2 133.8 850.2 133.8 852.2 133.8 854.2 133.9 856.2 133.9 858.2 134 860.2 134 862.2 134 864.2 134.1 866.2 134.1 868.2 134.2 870.2 134.2 872.2 134.3 874.2 134.4 876.2 134.4 878.2 134.5 880.2 134.5 882.2 134.6 884.2 134.7 886.2 134.7 888.2 134.8 890.2 134.8 892.2 134.9 894.2 135 896.2 135.1 898.2 135.1 900.2 135.2 902.2 135.3 904.2 135.4 906.2 135.5 908.2 135.5 910.2 135.6 912.2 135.7 914.2 135.8 916.2 135.9 918.1 136 920.1 136.1 922.1 136.2 924.1 136.3 926.1 136.4 928.1 136.5 930.1 136.7 932.1 136.8 934.1 136.9 936.1 137 938.1 137.1 940.1 137.3 942.1 137.4 944.1 137.5 946.1 137.7 948.1 137.8 950.1 138 952.1 138.1 954.1 138.3 956.1 138.4 958.1 138.6 960 138.7 962 138.9 964 139.1 966 139.3 968 139.4 970 139.6 972 139.8 974 140 976 140.2 978 140.3 980 140.5 981.9 140.7 983.9 140.9 985.9 141.2 987.9 141.4 989.9 141.6 991.9 141.8 993.9 142.1 995.9 142.3 997.8 142.6 999.8 142.8 1001.8 143.1 1003.8 143.4 1005.8 143.6 1007.7 143.9 1009.7 144.2 1011.7 144.5 1013.7 144.8 1015.7 145.1 1017.6 145.4 1019.6 145.7 1021.6 146.1 1023.5 146.4 1025.5 146.8 1027.5 147.2 1029.4 147.6 1031.4 148 1033.3 148.4 1035.3 148.9 1037.2 149.4 1039.2 149.9 1041.1 150.3 1043 150.9 1045 151.4 1046.9 151.9 1048.8 152.5 1050.7 153 1052.6 153.6 1054.6 154.2 1056.5 154.8 1058.4 155.4 1060.3 156 1062.2 156.6 1064.1 157.2 1066 157.9 1067.9 158.5 1069.8 159.2 1071.6 159.8 1073.5 160.5 1075.4 161.2 1077.3 161.9 1079.1 162.6 1081 163.3 1082.9 164 1084.7 164.8 1086.6 165.5 1088.4 166.2 1090.3 167 1092.1 167.8 1094 168.5 1095.8 169.3 1097.7 170.1 1099.5 170.9 1101.3 171.7 1103.1 172.6 1105 173.4 1106.8 174.2 1108.6 175.1 1110.4 176 1112.2 176.8 1114 177.7 1115.8 178.6 1117.6 179.5 1119.4 180.4 1121.1 181.3 1122.9 182.2 1124.7 183.1 1126.4 184.1 1128.2 185.1 1129.9 186 1131.6 187.1 1133.4 188.1 1135.1 189.1 1136.8 190.2 1138.4 191.3 1140.1 192.4 1141.8 193.5 1143.4 194.6 1145 195.8 1146.6 197 1148.2 198.2 1149.8 199.4 1151.4 200.6 1153 201.9 1154.5 203.1 1156.1 204.4 1157.6 205.7 1159.1 207 1160.6 208.3 1162.1 209.7 1163.6 211 1165.1 212.3 1166.5 213.7 1168 215.1 1169.4 216.4 1170.9 217.8 1172.3 219.2 1173.7 220.7 1175.1 222.1 1176.5 223.5 1177.9 225 1179.2 226.4 1180.6 227.9 1181.9 229.4 1183.3 230.9 1184.6 232.3 1186 233.8 1187.3 235.3 1188.6 236.8 1190 238.3 1191.3 239.8 1192.6 241.3 1193.9 242.8 1195.2 244.4 1196.5 245.9 1197.8 247.4 1199 249 1200.3 250.5 1201.6 252.1 1202.8 253.6 1204.1 255.2 1205.3 256.7 1206.6 258.3 1207.8 259.9 1209.1 261.4 1210.3 263 1211.5 264.6 1212.8 266.1 1214 267.7 1215.3 269.3 1216.5 270.8 1217.7 272.4 1219 274 1220.2 275.6 1221.4 277.1 1222.6 278.7 1223.9 280.3 1225.1 281.9 1226.3 283.5 1227.5 285.1 1228.7 286.7 1229.9 288.2 1231.2 289.8 1232.4 291.4 1233.6 293 1234.8 294.6 1236 296.2 1237.2 297.8 1238.4 299.4 1239.6 301 1240.8 302.6 1242 304.2 1243.3 305.7 1244.5 307.3 1245.7 308.9 1246.9 310.5 1248.1 312.1 1249.3 313.7 1250.5 315.3 1251.7 316.9 1252.9 318.5 1254.1 320.1 1255.2 321.7 1256.4 323.4 1257.6 325 1258.8 326.6 1260 328.2 1261.2 329.8 1262.3 331.4 1263.5 333 1264.7 334.7 1265.9 336.3 1267 337.9 1268.2 339.5 1269.4 341.1 1270.5 342.8 1271.7 344.4 1272.8 346 1274 347.7 1275.1 349.3 1276.3 350.9 1277.4 352.6 1278.6 354.2 1279.7 355.9 1280.8 357.5 1281.9 359.2 1283.1 360.8 1284.2 362.5 1285.3 364.2 1286.4 365.8 1287.5 367.5 1288.6 369.2 1289.7 370.8 1290.8 372.5 1291.9 374.2 1293 375.8 1294.1 377.5 1295.2 379.2 1296.3 380.9 1297.3 382.6 1298.4 384.2 1299.5 385.9 1300.6 387.6 1301.6 389.3 1302.7 391 1303.7 392.7 1304.8 394.4 1305.9 396.1 1306.9 397.8 1307.9 399.5 1309 401.2 1310 402.9 1311.1 404.6 1312.1 406.4 1313.1 408.1 1314.1 409.8 1315.2 411.5 1316.2 413.2 1317.2 414.9 1318.2 416.7 1319.3 418.4 1320.3 420.1 1321.3 421.8 1322.3 423.5 1323.3 425.2 1324.4 427 1325.4 428.7 1326.4 430.4 1327.4 432.1 1328.4 433.9 1329.4 435.6 1330.5 437.3 1331.5 439 1332.5 440.8 1333.5 442.5 1334.5 444.2 1335.5 445.9 1336.5 447.7 1337.5 449.4 1338.5 451.1 1339.5 452.9 1340.5 454.6 1341.5 456.3 1342.5 458.1 1343.4 459.8 1344.4 461.6 1345.4 463.3 1346.4 465.1 1347.3 466.8 1348.3 468.6 1349.3 470.3 1350.2 472.1 1351.2 473.8 1352.1 475.6 1353.1 477.3 1354.1 479.1 1355 480.8 1356 482.6 1356.9 484.4 1357.8 486.1 1358.8 487.9 1359.7 489.7 1360.6 491.4 1361.6 493.2 1362.5 495 1363.4 496.8 1364.3 498.5 1365.3 500.3 1366.2 502.1 1367.1 503.8 1368 505.6 1368.9 507.4 1369.9 509.2 1370.8 510.9 1371.7 512.7 1372.6 514.5 1373.6 516.3 1374.5 518 1375.4 519.8 1376.3 521.6 1377.1 523.4 1378 525.2 1378.9 527 1379.8 528.8 1380.6 530.6 1381.5 532.4 1382.4 534.2 1383.2 536 1384.1 537.8 1384.9 539.7 1385.7 541.5 1386.5 543.3 1387.4 545.1 1388.2 547 1389 548.8 1389.7 550.6 1390.5 552.5 1391.3 554.3 1392.1 556.1 1392.9 558 1393.6 559.8 1394.4 561.7 1395.1 563.5 1395.9 565.4 1396.6 567.3 1397.4 569.1 1398.1 571 1398.8 572.8 1399.6 574.7 1400.3 576.6 1401 578.4 1401.7 580.3 1402.4 582.2 1403.1 584 1403.8 585.9 1404.5 587.8 1405.2 589.7 1405.9 591.5 1406.6 593.4 1407.3 595.3 1408 597.2 1408.7 599 1409.3 600.9 1410 602.8 1410.7 604.7 1411.4 606.5 1412.1 608.4 1412.8 610.3 1413.5 612.2 1414.2 614 1414.9 615.9 1415.5 617.8 1416.2 619.7 1416.9 621.6 1417.6 623.4 1418.3 625.3 1418.9 627.2 1419.6 629.1 1420.3 631 1421 632.9 1421.6 634.7 1422.3 636.6 1423 638.5 1423.6 640.4 1424.3 642.3 1424.9 644.2 1425.6 646.1 1426.2 648 1426.8 649.9 1427.5 651.8 1428.1 653.7 1428.7 655.6 1429.4 657.5 1430 659.4 1430.6 661.3 1431.2 663.2 1431.8 665.1 1432.4 667 1433 668.9 1433.6 670.8 1434.2 672.7 1434.7 674.6 1435.3 676.5 1435.9 678.5 1436.4 680.4 1437 682.3 1437.5 684.2 1438.1 686.1 1438.6 688.1 1439.2 690 1439.7 691.9 1440.3 693.8 1440.8 695.8 1441.4 697.7 1441.9 699.6 1442.5 701.5 1443 703.5 1443.6 705.4 1444.1 707.3 1444.6 709.2 1445.2 711.2 1445.7 713.1 1446.3 715 1446.8 716.9 1447.3 718.9 1447.9 720.8 1448.4 722.7 1448.9 724.6 1449.5 726.6 1450 728.5 1450.5 730.4 1451.1 732.3 1451.6 734.3 1452.1 736.2 1452.7 738.1 1453.2 740.1 1453.7 742 1454.3 743.9 1454.8 745.8 1455.3 747.8 1455.8 749.7 1456.3 751.6 1456.8 753.6 1457.3 755.5 1457.9 757.4 1458.4 759.4 1458.8 761.3 1459.3 763.2 1459.8 765.2 1460.3 767.1 1460.8 769.1 1461.3 771 1461.8 772.9 1462.3 774.9 1462.7 776.8 1463.2 778.8 1463.7 780.7 1464.2 782.7 1464.6 784.6 1465.1 786.5 1465.6 788.5 1466 790.4 1466.5 792.4 1467 794.3 1467.4 796.3 1467.9 798.2 1468.3 800.2 1468.8 802.1 1469.2 804.1 1469.7 806 1470.1 808 1470.5 809.9 1471 811.9 1471.4 813.8 1471.8 815.8 1472.2 817.7 1472.7 819.7 1473.1 821.6 1473.5 823.6 1473.9 825.5 1474.4 827.5 1474.8 829.4 1475.2 831.4 1475.6 833.4 1476 835.3 1476.5 837.3 1476.9 839.2 1477.3 841.2 1477.7 843.1 1478.1 845.1 1478.6 847 1479 849 1479.4 851 1479.8 852.9 1480.2 854.9 1480.6 856.8 1481 858.8 1481.5 860.7 1481.9 862.7 1482.3 864.6 1482.7 866.6 1483.1 868.6 1483.5 870.5 1483.9 872.5 1484.3 874.4 1484.7 876.4 1485.1 878.3 1485.5 880.3 1485.9 882.3 1486.3 884.2 1486.7 886.2 1487.1 888.1 1487.5 890.1 1487.9 892.1 1488.3 894 1488.7 896 1489 898 1489.4 899.9 1489.8 901.9 1490.2 903.8 1490.5 905.8 1490.9 907.8 1491.3 909.7 1491.7 911.7 1492.1 913.7 1492.5 915.6 1492.9 917.6 1493.3 919.5 1493.7 921.5 1494.1 923.5 1494.5 925.4 1494.9 927.4 1495.3 929.3 1495.7 931.3 1496.1 933.3 1496.5 935.2 1496.9 937.2 1497.3 939.1 1497.7 941.1 1498.1 943 1498.5 945 1498.9 947 1499.2 948.9 1499.6 950.9 1500 952.8 1500.4 954.8 1500.8 956.8 1501.2 958.7 1501.6 960.7 1502 962.7 1502.4 964.6 1502.8 966.6 1503.1 968.5 1503.5 970.5 1503.9 972.5 1504.3 974.4 1504.7 976.4 1505 978.4 1505.4 980.3 1505.8 982.3 1506.1 984.3 1506.5 986.2 1506.9 988.2 1507.3 990.1 1507.6 992.1 1508 994.1 1508.4 996 1508.8 998 1509.2 999.9 1509.6 1001.9 1510 1003.9 1510.4 1005.8 1510.8 1007.8 1511.2 1009.7 1511.7 1011.7 1512.1 1013.6 1512.5 1015.6 1512.9 1017.6 1513.3 1019.5 1513.7 1021.5 1514.2 1023.4 1514.6 1025.4 1515 1027.3 1515.4 1029.3 1515.8 1031.2 1516.3 1033.2 1516.7 1035.2 1517.1 1037.1 1517.6 1039.1 1518 1041 1518.4 1043 1518.8 1044.9 1519.3 1046.9 1519.7 1048.8 1520.2 1050.8 1520.6 1052.7 1521.1 1054.7 1521.5 1056.6 1521.9 1058.6 1522.4 1060.5 1522.8 1062.5 1523.3 1064.4 1523.8 1066.4 1524.2 1068.3 1524.7 1070.2 1525.1 1072.2 1525.6 1074.1 1526 1076.1 1526.5 1078 1527 1080 1527.4 1081.9 1527.9 1083.9 1528.4 1085.8 1528.8 1087.8 1529.3 1089.7 1529.7 1091.6 1530.2 1093.6 1530.7 1095.5 1531.1 1097.5 1531.6 1099.4 1532.1 1101.4 1532.6 1103.3 1533 1105.2 1533.5 1107.2 1534 1109.1 1534.5 1111.1 1535 1113 1535.6 1114.9 1536.1 1116.9 1536.6 1118.8 1537.1 1120.7 1537.7 1122.6 1538.2 1124.6 1538.7 1126.5 1539.3 1128.4 1539.9 1130.3 1540.4 1132.2 1541 1134.2 1541.7 1136.1 1542.3 1137.9 1542.9 1139.8 1543.6 1141.7 1544.3 1143.6 1545 1145.5 1545.7 1147.3 1546.5 1149.2 1547.2 1151 1548 1152.9 1548.8 1154.7 1549.6 1156.5 1550.5 1158.4 1551.3 1160.2 1552.2 1162 1553 1163.8 1553.9 1165.6 1554.8 1167.4 1555.7 1169.2 1556.6 1170.9 1557.5 1172.7 1558.5 1174.4 1559.5 1176.2 1560.6 1177.9 1561.7 1179.5 1562.9 1181.1 1564.1 1182.7 1565.4 1184.2 1566.7 1185.8 1568 1187.3 1569.4 1188.7 1570.8 1190.1 1572.2 1191.5 1573.7 1192.9 1575.2 1194.2 1576.8 1195.4 1578.4 1196.6 1580 1197.8 1581.7 1198.8 1583.4 1199.9 1585.2 1200.8 1587 1201.7 1588.8 1202.6 1590.6 1203.4 1592.5 1204.2 1594.3 1204.9 1596.2 1205.6 1598.1 1206.3 1599.9 1207 1601.8 1207.7 1603.7 1208.3 1605.6 1209 1607.5 1209.6 1609.4 1210.3 1611.3 1210.9 1613.2 1211.4 1615.1 1212 1617 1212.6 1619 1213.1 1620.9 1213.6 1622.8 1214.1 1624.8 1214.6 1626.7 1215.1 1628.7 1215.5 1630.6 1216 1632.6 1216.5 1634.5 1216.9 1636.4 1217.4 1638.4 1217.9 1640.3 1218.4 1642.3 1218.9 1644.2 1219.3 1646.2 1219.8 1648.1 1220.3 1650 1220.7 1652 1221.2 1653.9 1221.6 1655.9 1222.1 1657.8 1222.5 1659.8 1222.9 1661.7 1223.4 1663.7 1223.8 1665.6 1224.3 1667.6 1224.7 1669.5 1225.2 1671.5 1225.6 1673.4 1226.1 1675.4 1226.5 1677.3 1227 1679.3 1227.4 1681.2 1227.9 1683.2 1228.3 1685.1 1228.8 1687.1 1229.2 1689 1229.7 1691 1230.1 1692.9 1230.5 1694.9 1231 1696.8 1231.4 1698.8 1231.9 1700.7 1232.3 1702.7 1232.8 1704.6 1233.2 1706.6 1233.7 1708.5 1234.1 1710.5 1234.6 1712.4 1235 1714.4 1235.5 1716.3 1235.9 1718.3 1236.4 1720.2 1236.8 1722.2 1237.2 1724.1 1237.7 1726.1 1238.1 1728 1238.5 1730 1239 1731.9 1239.4 1733.9 1239.8 1735.8 1240.3 1737.8 1240.7 1739.7 1241.1 1741.7 1241.5 1743.6 1241.9 1745.6 1242.3 1747.6 1242.7 1749.5 1243.1 1751.5 1243.4 1753.5 1243.8 1755.4 1244.2 1757.4 1244.6 1759.4 1244.9 1761.3 1245.3 1763.3 1245.7 1765.3 1246 1767.2 1246.4 1769.2 1246.7 1771.2 1247.1 1773.1 1247.4 1775.1 1247.8 1777.1 1248.1 1779 1248.4 1781 1248.8 1783 1249.1 1784.9 1249.4 1786.9 1249.8 1788.9 1250.1 1790.9 1250.4 1792.8 1250.7 1794.8 1251.1 1796.8 1251.4 1798.8 1251.7 1800.7 1252 1802.7 1252.3 1804.7 1252.6 1806.7 1252.9 1808.7 1253.2 1810.6 1253.4 1812.6 1253.7 1814.6 1254 1816.6 1254.3 1818.5 1254.6 1820.5 1254.8 1822.5 1255.1 1824.5 1255.4 1826.5 1255.6 1828.5 1255.9 1830.4 1256.2 1832.4 1256.4 1834.4 1256.7 1836.4 1256.9 1838.4 1257.2 1840.4 1257.4 1842.3 1257.6 1844.3 1257.9 1846.3 1258.1 1848.3 1258.4 1850.3 1258.6 1852.3 1258.8 1854.3 1259 1856.2 1259.3 1858.2 1259.5 1860.2 1259.7 1862.2 1259.9 1864.2 1260.1 1866.2 1260.4 1868.2 1260.6 1870.2 1260.8 1872.1 1261 1874.1 1261.2 1876.1 1261.4 1878.1 1261.6 1880.1 1261.8 1882.1 1262 1884.1 1262.2 1886.1 1262.4 1888.1 1262.5 1890.1 1262.7 1892 1262.9 1894 1263.1 1896 1263.3 1898 1263.5 1900 1263.7 1902 1263.8 1904 1264 1906 1264.2 1908 1264.3 1910 1264.5 1912 1264.7 1914 1264.9 1915.9 1265 1917.9 1265.2 1919.9 1265.4 1921.9 1265.6 1923.9 1265.8 1925.9 1265.9 1927.9 1266.1 1929.9 1266.3 1931.9 1266.5 1933.9 1266.7 1935.9 1266.9 1937.8 1267.1 1939.8 1267.2 1941.8 1267.4 1943.8 1267.6 1945.8 1267.8 1947.8 1268 1949.8 1268.2 1951.8 1268.4 1953.8 1268.6 1955.8 1268.8 1957.7 1269 1959.7 1269.2 1961.7 1269.4 1963.7 1269.7 1965.7 1269.9 1967.7 1270.1 1969.7 1270.3 1971.7 1270.5 1973.6 1270.7 1975.6 1271 1977.6 1271.2 1979.6 1271.4 1981.6 1271.6" stroke="#0000ff" stroke-width="7" stroke-linecap="round" stroke-dasharray="31.5 22 4 18.5" stroke-dashoffset="14.2"/>
<path d="M262 53L264 53.3 265.9 53.7 267.9 54 269.9 54.3 271.9 54.7 273.8 55 275.8 55.3 277.8 55.6 279.7 56 281.7 56.3 283.7 56.6 285.7 56.9 287.6 57.3 289.6 57.6 291.6 57.9 293.6 58.2 295.5 58.5 297.5 58.8 299.5 59.1 301.5 59.4 303.4 59.7 305.4 60 307.4 60.3 309.4 60.6 311.3 60.9 313.3 61.2 315.3 61.5 317.3 61.7 319.3 62 321.2 62.2 323.2 62.5 325.2 62.7 327.2 63 329.2 63.2 331.2 63.5 333.1 63.8 335.1 64 337.1 64.3 339.1 64.6 341 64.9 343 65.2 345 65.5 347 65.8 348.9 66.1 350.9 66.5 352.9 66.8 354.9 67.2 356.8 67.5 358.8 67.9 360.7 68.3 362.7 68.7 364.7 69.1 366.6 69.5 368.6 70 370.5 70.4 372.4 70.9 374.4 71.4 376.3 71.9 378.2 72.5 380.1 73 382.1 73.6 384 74.1 385.9 74.7 387.8 75.3 389.7 75.9 391.6 76.5 393.5 77.1 395.4 77.7 397.3 78.3 399.2 79 401.1 79.6 403 80.2 404.9 80.9 406.8 81.5 408.7 82.2 410.6 82.8 412.5 83.5 414.4 84.1 416.3 84.8 418.1 85.4 420 86.1 421.9 86.8 423.8 87.4 425.7 88 427.6 88.7 429.5 89.3 431.4 89.9 433.3 90.5 435.2 91.1 437.1 91.7 439 92.3 440.9 92.8 442.9 93.4 444.8 94 446.7 94.5 448.6 95.1 450.6 95.6 452.5 96.1 454.4 96.6 456.4 97.1 458.3 97.6 460.2 98 462.2 98.5 464.1 98.9 466.1 99.4 468 99.8 470 100.2 471.9 100.7 473.9 101.1 475.8 101.5 477.8 101.9 479.8 102.3 481.7 102.7 483.7 103.1 485.6 103.5 487.6 103.9 489.6 104.3 491.5 104.7 493.5 105 495.5 105.4 497.4 105.7 499.4 106.1 501.4 106.4 503.3 106.7 505.3 107 507.3 107.3 509.3 107.6 511.2 107.9 513.2 108.1 515.2 108.4 517.2 108.7 519.2 108.9 521.2 109.2 523.1 109.4 525.1 109.6 527.1 109.8 529.1 110 531.1 110.2 533.1 110.4 535.1 110.6 537.1 110.7 539.1 110.9 541.1 111.1 543 111.2 545 111.4 547 111.5 549 111.6 551 111.8 553 111.9 555 112 557 112.1 559 112.2 561 112.4 563 112.5 565 112.6 567 112.7 569 112.7 571 112.8 573 112.9 575 113 577 113.1 579 113.2 581 113.3 583 113.3 585 113.4 587 113.5 588.9 113.5 590.9 113.6 592.9 113.7 594.9 113.7 596.9 113.8 598.9 113.8 600.9 113.9 602.9 114 604.9 114 606.9 114.1 608.9 114.1 610.9 114.2 612.9 114.3 614.9 114.3 616.9 114.4 618.9 114.4 620.9 114.5 622.9 114.5 624.9 114.6 626.9 114.6 628.9 114.7 630.9 114.7 632.9 114.8 634.9 114.8 636.9 114.8 638.9 114.9 640.9 114.9 642.9 115 644.9 115 646.9 115 648.9 115.1 650.9 115.1 652.9 115.1 654.9 115.2 656.9 115.2 658.9 115.2 660.9 115.3 662.9 115.3 664.9 115.4 666.9 115.4 668.9 115.4 670.9 115.5 672.9 115.5 674.9 115.6 676.9 115.6 678.9 115.6 680.9 115.7 682.9 115.7 684.9 115.8 686.9 115.8 688.9 115.8 690.8 115.9 692.8 115.9 694.8 116 696.8 116 698.8 116.1 700.8 116.1 702.8 116.1 704.8 116.2 706.8 116.2 708.8 116.3 710.8 116.3 712.8 116.4 714.8 116.4 716.8 116.4 718.8 116.5 720.8 116.5 722.8 116.6 724.8 116.6 726.8 116.7 728.8 116.7 730.8 116.8 732.8 116.8 734.8 116.9 736.8 116.9 738.8 117 740.8 117 742.8 117.1 744.8 117.1 746.8 117.2 748.8 117.2 750.8 117.3 752.8 117.3 754.8 117.4 756.8 117.4 758.8 117.5 760.8 117.5 762.8 117.6 764.8 117.6 766.8 117.7 768.8 117.7 770.8 117.8 772.8 117.8 774.8 117.9 776.8 117.9 778.8 118 780.8 118 782.8 118 784.8 118.1 786.8 118.1 788.8 118.2 790.8 118.2 792.8 118.3 794.7 118.3 796.7 118.3 798.7 118.4 800.7 118.4 802.7 118.5 804.7 118.5 806.7 118.5 808.7 118.6 810.7 118.6 812.7 118.7 814.7 118.7 816.7 118.7 818.7 118.8 820.7 118.8 822.7 118.9 824.7 118.9 826.7 119 828.7 119 830.7 119.1 832.7 119.1 834.7 119.2 836.7 119.2 838.7 119.3 840.7 119.3 842.7 119.4 844.7 119.4 846.7 119.5 848.7 119.5 850.7 119.6 852.7 119.6 854.7 119.7 856.7 119.7 858.7 119.8 860.7 119.9 862.7 119.9 864.7 120 866.7 120 868.7 120.1 870.7 120.2 872.7 120.2 874.7 120.3 876.7 120.4 878.7 120.5 880.7 120.6 882.7 120.6 884.7 120.7 886.6 120.8 888.6 120.9 890.6 121 892.6 121.1 894.6 121.2 896.6 121.3 898.6 121.4 900.6 121.5 902.6 121.6 904.6 121.8 906.6 121.9 908.6 122 910.6 122.1 912.6 122.2 914.6 122.4 916.6 122.5 918.6 122.6 920.6 122.8 922.6 122.9 924.6 123.1 926.5 123.2 928.5 123.4 930.5 123.5 932.5 123.7 934.5 123.8 936.5 124 938.5 124.2 940.5 124.4 942.5 124.5 944.5 124.7 946.5 124.9 948.4 125.1 950.4 125.3 952.4 125.5 954.4 125.7 956.4 125.9 958.4 126.2 960.4 126.4 962.4 126.6 964.3 126.9 966.3 127.1 968.3 127.4 970.3 127.7 972.3 127.9 974.2 128.2 976.2 128.5 978.2 128.8 980.2 129.1 982.1 129.4 984.1 129.7 986.1 130.1 988.1 130.4 990 130.7 992 131.1 994 131.4 995.9 131.8 997.9 132.2 999.9 132.5 1001.8 132.9 1003.8 133.3 1005.7 133.7 1007.7 134.1 1009.6 134.6 1011.6 135 1013.5 135.4 1015.5 135.9 1017.4 136.3 1019.4 136.8 1021.3 137.3 1023.3 137.8 1025.2 138.3 1027.1 138.8 1029.1 139.3 1031 139.8 1032.9 140.4 1034.8 140.9 1036.7 141.5 1038.7 142.1 1040.6 142.7 1042.5 143.3 1044.4 144 1046.2 144.6 1048.1 145.3 1050 146 1051.9 146.7 1053.7 147.4 1055.6 148.1 1057.5 148.8 1059.3 149.6 1061.2 150.4 1063 151.1 1064.8 151.9 1066.7 152.8 1068.5 153.6 1070.3 154.4 1072.1 155.3 1073.9 156.2 1075.7 157.1 1077.5 158 1079.2 158.9 1081 159.8 1082.8 160.7 1084.6 161.6 1086.3 162.6 1088.1 163.5 1089.8 164.5 1091.6 165.5 1093.3 166.5 1095 167.5 1096.8 168.5 1098.5 169.5 1100.2 170.6 1101.9 171.6 1103.5 172.7 1105.2 173.8 1106.9 174.9 1108.5 176 1110.2 177.2 1111.8 178.3 1113.4 179.5 1115 180.7 1116.7 181.8 1118.3 183 1119.9 184.2 1121.4 185.5 1123 186.7 1124.6 187.9 1126.2 189.2 1127.7 190.4 1129.3 191.7 1130.8 193 1132.3 194.2 1133.9 195.5 1135.4 196.8 1136.9 198.1 1138.4 199.5 1139.9 200.8 1141.4 202.1 1142.8 203.5 1144.3 204.8 1145.8 206.2 1147.2 207.6 1148.6 209 1150.1 210.4 1151.5 211.8 1152.9 213.2 1154.3 214.6 1155.7 216.1 1157 217.5 1158.4 219 1159.8 220.5 1161.1 221.9 1162.5 223.4 1163.8 224.9 1165.1 226.4 1166.5 227.9 1167.8 229.4 1169.1 230.9 1170.4 232.4 1171.7 233.9 1173 235.5 1174.2 237 1175.5 238.5 1176.8 240.1 1178 241.6 1179.3 243.2 1180.5 244.8 1181.7 246.4 1182.9 248 1184.1 249.6 1185.3 251.2 1186.5 252.8 1187.6 254.4 1188.8 256.1 1189.9 257.7 1191.1 259.3 1192.2 261 1193.4 262.6 1194.5 264.3 1195.6 265.9 1196.7 267.6 1197.8 269.3 1198.9 271 1199.9 272.6 1201 274.3 1202 276 1203.1 277.8 1204.1 279.5 1205.1 281.2 1206.2 282.9 1207.2 284.6 1208.2 286.3 1209.3 288 1210.3 289.7 1211.4 291.4 1212.4 293.1 1213.5 294.8 1214.5 296.5 1215.5 298.2 1216.6 300 1217.6 301.7 1218.6 303.4 1219.6 305.1 1220.6 306.8 1221.6 308.6 1222.7 310.3 1223.7 312 1224.7 313.7 1225.7 315.5 1226.7 317.2 1227.7 318.9 1228.7 320.7 1229.7 322.4 1230.6 324.1 1231.6 325.9 1232.6 327.6 1233.5 329.4 1234.5 331.2 1235.4 332.9 1236.3 334.7 1237.2 336.5 1238.1 338.3 1239 340.1 1239.8 341.9 1240.7 343.7 1241.5 345.5 1242.4 347.3 1243.2 349.1 1244 350.9 1244.8 352.8 1245.7 354.6 1246.5 356.4 1247.3 358.2 1248.1 360.1 1248.9 361.9 1249.7 363.7 1250.5 365.6 1251.3 367.4 1252.1 369.2 1252.9 371.1 1253.7 372.9 1254.5 374.7 1255.2 376.6 1256 378.4 1256.8 380.3 1257.6 382.1 1258.3 384 1259.1 385.8 1259.9 387.6 1260.6 389.5 1261.4 391.3 1262.1 393.2 1262.9 395 1263.6 396.9 1264.4 398.7 1265.2 400.6 1265.9 402.4 1266.7 404.3 1267.4 406.1 1268.2 408 1268.9 409.9 1269.7 411.7 1270.4 413.6 1271.2 415.4 1271.9 417.3 1272.7 419.1 1273.4 421 1274.1 422.8 1274.9 424.7 1275.6 426.5 1276.3 428.4 1277.1 430.3 1277.8 432.1 1278.5 434 1279.2 435.9 1279.9 437.7 1280.6 439.6 1281.3 441.5 1282 443.4 1282.7 445.2 1283.3 447.1 1284 449 1284.7 450.9 1285.3 452.8 1286 454.7 1286.7 456.6 1287.3 458.4 1288 460.3 1288.6 462.2 1289.2 464.1 1289.9 466 1290.5 467.9 1291.2 469.8 1291.8 471.7 1292.4 473.6 1293 475.5 1293.6 477.4 1294.2 479.3 1294.9 481.2 1295.5 483.1 1296.1 485 1296.7 486.9 1297.3 488.8 1297.9 490.7 1298.5 492.6 1299.2 494.5 1299.8 496.4 1300.4 498.3 1301 500.2 1301.6 502.1 1302.3 504 1302.9 505.9 1303.5 507.8 1304.1 509.7 1304.7 511.6 1305.3 513.5 1306 515.4 1306.6 517.3 1307.2 519.2 1307.8 521.1 1308.4 523 1309.1 524.9 1309.7 526.8 1310.3 528.7 1310.9 530.6 1311.5 532.5 1312.2 534.4 1312.8 536.3 1313.4 538.2 1314 540.1 1314.6 542 1315.3 543.9 1315.9 545.8 1316.5 547.7 1317.1 549.6 1317.7 551.5 1318.3 553.4 1318.9 555.3 1319.5 557.2 1320.1 559.2 1320.7 561.1 1321.3 563 1321.9 564.9 1322.5 566.8 1323.1 568.7 1323.7 570.6 1324.3 572.5 1324.9 574.4 1325.4 576.3 1326 578.3 1326.6 580.2 1327.2 582.1 1327.7 584 1328.3 585.9 1328.9 587.8 1329.4 589.8 1330 591.7 1330.5 593.6 1331.1 595.5 1331.6 597.4 1332.1 599.4 1332.7 601.3 1333.2 603.2 1333.7 605.1 1334.3 607.1 1334.8 609 1335.3 610.9 1335.8 612.9 1336.4 614.8 1336.9 616.7 1337.4 618.6 1337.9 620.6 1338.5 622.5 1339 624.4 1339.5 626.4 1340 628.3 1340.5 630.2 1341 632.2 1341.5 634.1 1342 636 1342.5 638 1343 639.9 1343.6 641.8 1344.1 643.8 1344.6 645.7 1345.1 647.6 1345.6 649.6 1346.1 651.5 1346.6 653.4 1347.1 655.4 1347.6 657.3 1348.1 659.2 1348.6 661.2 1349.1 663.1 1349.6 665 1350.1 667 1350.6 668.9 1351.1 670.8 1351.6 672.8 1352.1 674.7 1352.6 676.6 1353.1 678.6 1353.6 680.5 1354.1 682.4 1354.6 684.4 1355.1 686.3 1355.6 688.3 1356.1 690.2 1356.6 692.1 1357.1 694.1 1357.6 696 1358.1 697.9 1358.6 699.9 1359 701.8 1359.5 703.8 1360 705.7 1360.5 707.6 1361 709.6 1361.5 711.5 1362 713.4 1362.4 715.4 1362.9 717.3 1363.4 719.3 1363.9 721.2 1364.4 723.1 1364.8 725.1 1365.3 727 1365.8 729 1366.3 730.9 1366.8 732.8 1367.3 734.8 1367.8 736.7 1368.3 738.7 1368.7 740.6 1369.2 742.5 1369.7 744.5 1370.2 746.4 1370.7 748.3 1371.2 750.3 1371.7 752.2 1372.2 754.2 1372.7 756.1 1373.2 758 1373.7 760 1374.2 761.9 1374.7 763.8 1375.2 765.8 1375.6 767.7 1376.1 769.6 1376.6 771.6 1377.1 773.5 1377.6 775.5 1378.1 777.4 1378.6 779.3 1379.1 781.3 1379.6 783.2 1380 785.2 1380.5 787.1 1381 789 1381.5 791 1381.9 792.9 1382.4 794.9 1382.9 796.8 1383.3 798.7 1383.8 800.7 1384.3 802.6 1384.7 804.6 1385.2 806.5 1385.6 808.5 1386.1 810.4 1386.5 812.4 1387 814.3 1387.4 816.3 1387.9 818.2 1388.3 820.2 1388.8 822.1 1389.3 824 1389.7 826 1390.2 827.9 1390.7 829.9 1391.1 831.8 1391.6 833.8 1392.1 835.7 1392.5 837.7 1393 839.6 1393.5 841.5 1393.9 843.5 1394.4 845.4 1394.9 847.4 1395.4 849.3 1395.9 851.2 1396.4 853.2 1396.9 855.1 1397.4 857 1397.9 859 1398.4 860.9 1399 862.8 1399.5 864.7 1400 866.7 1400.6 868.6 1401.1 870.5 1401.6 872.5 1402.2 874.4 1402.7 876.3 1403.3 878.2 1403.8 880.1 1404.4 882.1 1404.9 884 1405.5 885.9 1406 887.8 1406.6 889.7 1407.2 891.7 1407.7 893.6 1408.3 895.5 1408.9 897.4 1409.5 899.3 1410.1 901.2 1410.6 903.1 1411.2 905 1411.8 907 1412.4 908.9 1413 910.8 1413.6 912.7 1414.2 914.6 1414.8 916.5 1415.5 918.4 1416.1 920.3 1416.7 922.2 1417.3 924.1 1417.9 926 1418.6 927.9 1419.2 929.8 1419.9 931.6 1420.6 933.5 1421.3 935.4 1422 937.3 1422.7 939.1 1423.4 941 1424.1 942.9 1424.9 944.7 1425.6 946.6 1426.4 948.4 1427.2 950.3 1427.9 952.1 1428.8 953.9 1429.6 955.7 1430.4 957.6 1431.3 959.4 1432.2 961.1 1433.1 962.9 1434 964.7 1435 966.4 1435.9 968.2 1436.9 969.9 1437.9 971.7 1438.9 973.4 1440 975.1 1441 976.8 1442.1 978.5 1443.2 980.2 1444.3 981.8 1445.5 983.4 1446.7 985 1447.9 986.6 1449.1 988.2 1450.4 989.8 1451.6 991.3 1452.9 992.8 1454.2 994.4 1455.6 995.8 1456.9 997.3 1458.3 998.7 1459.7 1000.2 1461.2 1001.5 1462.6 1002.9 1464.1 1004.2 1465.7 1005.5 1467.2 1006.8 1468.8 1008 1470.4 1009.2 1472 1010.3 1473.7 1011.5 1475.3 1012.6 1477 1013.7 1478.7 1014.8 1480.4 1015.8 1482.1 1016.8 1483.8 1017.9 1485.6 1018.8 1487.3 1019.8 1489.1 1020.7 1490.9 1021.6 1492.7 1022.4 1494.5 1023.3 1496.3 1024.1 1498.2 1024.9 1500 1025.7 1501.8 1026.5 1503.7 1027.3 1505.5 1028.1 1507.4 1028.8 1509.2 1029.6 1511.1 1030.3 1512.9 1031.1 1514.8 1031.8 1516.7 1032.5 1518.5 1033.2 1520.4 1033.9 1522.3 1034.6 1524.2 1035.2 1526 1035.9 1527.9 1036.6 1529.8 1037.3 1531.7 1037.9 1533.6 1038.6 1535.5 1039.2 1537.4 1039.9 1539.2 1040.5 1541.1 1041.2 1543 1041.8 1544.9 1042.5 1546.8 1043.1 1548.7 1043.7 1550.6 1044.4 1552.5 1045 1554.4 1045.6 1556.3 1046.2 1558.2 1046.9 1560.1 1047.5 1562 1048.1 1563.9 1048.7 1565.8 1049.3 1567.7 1049.9 1569.6 1050.5 1571.5 1051.1 1573.5 1051.7 1575.4 1052.2 1577.3 1052.8 1579.2 1053.4 1581.1 1054 1583 1054.5 1584.9 1055.1 1586.9 1055.7 1588.8 1056.3 1590.7 1056.8 1592.6 1057.4 1594.5 1058 1596.4 1058.5 1598.4 1059.1 1600.3 1059.6 1602.2 1060.2 1604.1 1060.8 1606 1061.3 1607.9 1061.9 1609.9 1062.5 1611.8 1063 1613.7 1063.6 1615.6 1064.2 1617.5 1064.8 1619.4 1065.3 1621.3 1065.9 1623.3 1066.5 1625.2 1067.1 1627.1 1067.6 1629 1068.2 1630.9 1068.7 1632.9 1069.3 1634.8 1069.8 1636.7 1070.3 1638.6 1070.8 1640.6 1071.3 1642.5 1071.9 1644.4 1072.4 1646.4 1072.9 1648.3 1073.4 1650.3 1073.8 1652.2 1074.3 1654.1 1074.8 1656.1 1075.3 1658 1075.7 1660 1076.2 1661.9 1076.7 1663.9 1077.1 1665.8 1077.6 1667.7 1078 1669.7 1078.5 1671.6 1078.9 1673.6 1079.4 1675.5 1079.8 1677.5 1080.3 1679.4 1080.7 1681.4 1081.2 1683.3 1081.6 1685.3 1082.1 1687.2 1082.5 1689.2 1083 1691.1 1083.4 1693.1 1083.8 1695 1084.3 1697 1084.7 1698.9 1085.1 1700.9 1085.5 1702.8 1085.9 1704.8 1086.4 1706.8 1086.8 1708.7 1087.2 1710.7 1087.6 1712.6 1088 1714.6 1088.4 1716.5 1088.7 1718.5 1089.1 1720.5 1089.5 1722.4 1089.9 1724.4 1090.3 1726.4 1090.7 1728.3 1091 1730.3 1091.4 1732.2 1091.8 1734.2 1092.1 1736.2 1092.5 1738.1 1092.8 1740.1 1093.2 1742.1 1093.5 1744 1093.9 1746 1094.2 1748 1094.6 1750 1095 1751.9 1095.3 1753.9 1095.7 1755.9 1096 1757.8 1096.4 1759.8 1096.7 1761.8 1097 1763.7 1097.4 1765.7 1097.7 1767.7 1098.1 1769.6 1098.4 1771.6 1098.7 1773.6 1099.1 1775.5 1099.4 1777.5 1099.7 1779.5 1100.1 1781.5 1100.4 1783.4 1100.7 1785.4 1101 1787.4 1101.4 1789.4 1101.7 1791.3 1102 1793.3 1102.3 1795.3 1102.6 1797.2 1103 1799.2 1103.3 1801.2 1103.6 1803.2 1103.9 1805.1 1104.2 1807.1 1104.5 1809.1 1104.8 1811.1 1105.1 1813.1 1105.4 1815 1105.7 1817 1105.9 1819 1106.2 1821 1106.5 1822.9 1106.8 1824.9 1107.1 1826.9 1107.4 1828.9 1107.7 1830.9 1107.9 1832.8 1108.2 1834.8 1108.5 1836.8 1108.8 1838.8 1109 1840.7 1109.3 1842.7 1109.6 1844.7 1109.9 1846.7 1110.1 1848.7 1110.4 1850.6 1110.7 1852.6 1111 1854.6 1111.2 1856.6 1111.5 1858.6 1111.8 1860.5 1112 1862.5 1112.3 1864.5 1112.6 1866.5 1112.8 1868.5 1113.1 1870.5 1113.4 1872.4 1113.6 1874.4 1113.9 1876.4 1114.1 1878.4 1114.4 1880.4 1114.7 1882.3 1114.9 1884.3 1115.2 1886.3 1115.4 1888.3 1115.6 1890.3 1115.9 1892.3 1116.1 1894.2 1116.4 1896.2 1116.6 1898.2 1116.9 1900.2 1117.1 1902.2 1117.4 1904.2 1117.6 1906.1 1117.8 1908.1 1118.1 1910.1 1118.3 1912.1 1118.6 1914.1 1118.8 1916.1 1119 1918.1 1119.3 1920 1119.5 1922 1119.7 1924 1120 1926 1120.2 1928 1120.5 1930 1120.7 1931.9 1120.9 1933.9 1121.2 1935.9 1121.4 1937.9 1121.6 1939.9 1121.9 1941.9 1122.1 1943.9 1122.3 1945.8 1122.6 1947.8 1122.8 1949.8 1123 1951.8 1123.3 1953.8 1123.5 1955.8 1123.7 1957.8 1123.9 1959.7 1124.1 1961.7 1124.4 1963.7 1124.6 1965.7 1124.8 1967.7 1125 1969.7 1125.2 1971.7 1125.4 1973.7 1125.6 1975.6 1125.9 1977.6 1126.1 1979.6 1126.3 1981.6 1126.5" stroke="#ff8000" stroke-width="7" stroke-linecap="round" stroke-dasharray="11 16.5"/>
</g>
<g clip-path="url(#iclip)" fill="none" stroke-linejoin="round">
<path d="M464.4 654.1L466.4 654 468.4 653.9 470.4 653.9 472.4 653.8 474.4 653.7 476.4 653.6 478.4 653.6 480.4 653.5 482.4 653.4 484.4 653.2 486.4 653 488.4 652.8 490.3 652.6 492.3 652.5 494.3 652.4 496.3 652.4 498.3 652.4 500.3 652.6 502.3 653 504.2 653.5 506.1 654.1 508 654.9 509.8 655.7 511.6 656.5 513.5 657.3 515.3 658.1 517.2 658.8 519.1 659.4 521 659.9 522.9 660.5 524.9 661 526.8 661.5 528.7 662 530.7 662.5 532.6 663 534.6 663.4 536.5 663.9 538.4 664.3 540.4 664.8 542.3 665.2 544.3 665.7 546.2 666.2 548.2 666.6 550.1 667.1 552.1 667.5 554 668 556 668.4 557.9 668.9 559.9 669.3 561.8 669.8 563.8 670.2 565.7 670.7 567.7 671.1 569.6 671.5 571.6 672 573.5 672.4 575.5 672.8 577.4 673.2 579.4 673.6 581.4 674 583.3 674.3 585.3 674.7 587.3 675 589.2 675.4 591.2 675.8 593.2 676.2 595.1 676.6 597.1 677.1 599 677.6 600.9 678.1 602.9 678.6 604.8 679.1 606.7 679.7 608.6 680.3 610.5 680.8 612.5 681.4 614.4 682 616.3 682.6 618.2 683.2 620.1 683.9 621.9 684.5 623.8 685.2 625.7 685.8 627.6 686.5 629.5 687.2 631.4 687.8 633.3 688.6 635.1 689.3 637 690.1 638.8 690.9 640.6 691.7 642.4 692.6 644.1 693.6 645.9 694.6 647.6 695.6 649.3 696.7 651 697.8 652.6 698.9 654.3 700 655.9 701.2 657.5 702.3 659.1 703.5 660.8 704.7 662.4 705.9 664 707 665.6 708.2 667.2 709.4 668.8 710.7 670.3 711.9 671.9 713.2 673.4 714.4 675 715.7 676.5 716.9 678.1 718.2 679.6 719.5 681.2 720.7 682.8 721.9 684.4 723.2 685.9 724.4 687.5 725.6 689.1 726.8 690.7 728.1 692.2 729.3 693.8 730.6 695.4 731.8 696.9 733.1 698.4 734.4 700 735.7 701.4 737 702.9 738.4 704.3 739.8 705.7 741.2 707.1 742.6 708.5 744.1 709.9 745.5 711.3 747 712.6 748.4 714.1 749.8 715.5 751.2 717 752.6 718.5 753.9 720 755.2 721.5 756.5 723.1 757.7 724.6 759 726.2 760.2 727.8 761.4 729.4 762.7 731 763.9 732.6 765.1 734.2 766.2 735.8 767.4 737.4 768.6 739 769.8 740.7 770.9 742.3 772.1 743.9 773.3 745.6 774.4 747.2 775.6 748.9 776.7 750.5 777.8 752.2 778.9 753.9 780 755.6 781 757.3 782 759 783 760.8 784 762.5 784.9 764.3 785.9 766.1 786.7 767.9 787.6 769.7 788.5 771.5 789.3 773.4 790.1 775.2 791 777 791.8 778.8 792.6 780.7 793.3 782.6 794.1 784.4 794.8 786.3 795.5 788.1 796.2 790 797 791.9 797.7 793.7 798.4 795.6 799.2 797.4 799.9 799.3 800.7 801.1 801.4 803 802.2 804.9 802.9 806.7 803.6 808.6 804.4 810.5 805.1 812.3 805.8 814.2 806.5 816.1 807.1 818 807.8 819.8 808.5 821.7 809.1 823.6 809.8 825.5 810.4 827.5 811 829.4 811.5 831.3 812 833.3 812.4 835.2 812.9 837.2 813.3 839.1 813.8 841.1 814.3 843 814.8 844.9 815.4 846.8 816 848.6 816.7 850.5 817.5 852.4 818.2 854.2 819 856.1 819.8 857.9 820.5 859.7 821.3 861.6 822.1 863.5 822.8 865.3 823.6 867.1 824.3 869 825.1 870.8 825.9 872.7 826.6 874.5 827.4 876.4 828.1 878.3 828.8 880.2 829.4 882.1 829.9 884.1 830.3 886 830.7 888 831.2 889.9 831.9 891.6 832.9 893 834.2 894.3 835.8 895.4 837.5 896.5 839.1 897.6 840.8 899 842.3 900.6 843.3 902.6 843.8 904.6 843.9 906.5 844.5 908 845.7 909.2 847.3 910.2 849.1 911.1 850.8 912.1 852.6 913.1 854.3 914.3 855.9 915.6 857.4 916.9 858.9 918.3 860.4 919.7 861.9 921 863.3 922.4 864.8 923.7 866.2 925.1 867.7 926.4 869.2 927.7 870.8 928.9 872.3 930.2 873.9 931.4 875.5 932.6 877.1 933.8 878.6 935 880.3 936.2 881.9 937.4 883.5 938.5 885.1 939.6 886.8 940.7 888.5 941.8 890.2 942.7 891.9 943.7 893.7 944.5 895.5 945.3 897.3 946.1 899.2 946.9 901 947.8 902.8 948.7 904.6 949.7 906.3 950.8 908 952 909.6 953.3 911.1 954.7 912.5 956.1 914 957.5 915.4 958.9 916.8 960.2 918.3 961.5 919.8 962.7 921.5 963.7 923.2 964.7 924.9 965.6 926.7 966.5 928.5 967.3 930.3 968.1 932.1 969 934 969.8 935.8 970.7 937.6 971.6 939.3 972.5 941.1 973.5 942.9 974.4 944.6 975.3 946.4 976.3 948.2 977.2 949.9 978.2 951.7 979.2 953.4 980.2 955.2 981.1 956.9 982.1 958.6 983.1 960.4 984.1 962.1 985.1 963.8 986.1 965.6 987.2 967.3 988.2 969 989.3 970.6 990.5 972.3 991.7 973.9 992.9 975.5 994.2 977 995.4 978.5 996.8 980 998.2 981.4 999.7 982.8 1001.3 984 1002.8 985.3 1004.4 986.5 1006.1 987.6 1007.9 988.4 1009.8 988.9 1011.8 988.8 1013.8 988.3 1015.6 987.6 1017.4 986.7 1019.1 985.7 1020.8 984.5 1022.3 983.3 1023.8 981.9 1025.2 980.4 1026.4 978.9 1027.5 977.2 1028.6 975.5 1029.5 973.8 1030.4 972 1031.3 970.2 1032.1 968.3 1032.8 966.5 1033.5 964.6 1034.2 962.7 1034.7 960.8 1035.3 958.9 1035.8 956.9 1036.2 955 1036.7 953 1037.1 951.1 1037.5 949.1 1037.9 947.2 1038.2 945.2 1038.6 943.2 1039 941.3 1039.3 939.3 1039.7 937.3 1040 935.4 1040.4 933.4 1040.8 931.4 1041.2 929.5 1041.6 927.5 1042 925.6 1042.4 923.6 1042.8 921.6 1043.2 919.7 1043.6 917.7 1044 915.8 1044.4 913.8 1044.8 911.9 1045.2 909.9 1045.6 907.9 1046 906 1046.4 904 1046.8 902.1 1047.2 900.1 1047.6 898.1 1047.9 896.2 1048.3 894.2 1048.6 892.2 1049 890.3 1049.3 888.3 1049.7 886.3 1050 884.3 1050.3 882.4 1050.6 880.4 1050.9 878.4 1051.2 876.4 1051.5 874.5 1051.8 872.5 1052 870.5 1052.3 868.5 1052.6 866.5 1052.9 864.6 1053.1 862.6 1053.4 860.6 1053.7 858.6 1054 856.6 1054.3 854.7 1054.6 852.7 1054.9 850.7 1055.2 848.7 1055.5 846.7 1055.8 844.8 1056.1 842.8 1056.4 840.8 1056.7 838.8 1057 836.9 1057.3 834.9 1057.6 832.9 1057.9 830.9 1058.2 829 1058.5 827 1058.8 825 1059.1 823 1059.4 821 1059.7 819.1 1060 817.1 1060.2 815.1 1060.5 813.1 1060.8 811.2 1061.1 809.2 1061.4 807.2 1061.7 805.2 1062 803.2 1062.2 801.3 1062.5 799.3 1062.8 797.3 1063.1 795.3 1063.4 793.3 1063.7 791.4 1064 789.4 1064.3 787.4 1064.6 785.4 1064.9 783.5 1065.3 781.5 1065.6 779.5 1066 777.6 1066.3 775.6 1066.7 773.6 1067.1 771.7 1067.4 769.7 1067.8 767.7 1068.2 765.8 1068.6 763.8 1069 761.9 1069.4 759.9 1069.9 757.9 1070.3 756 1070.7 754 1071.2 752.1 1071.7 750.2 1072.2 748.2 1072.8 746.3 1073.4 744.4 1074 742.5 1074.6 740.6 1075.3 738.7 1075.9 736.8 1076.5 734.9 1077.2 733 1077.9 731.1 1078.5 729.3 1079.1 727.3 1079.6 725.4 1080.1 723.5 1080.4 721.5 1080.8 719.5 1081.2 717.6 1081.6 715.6 1082.1 713.7 1082.7 711.8 1083.3 709.9 1084 708 1084.7 706.1 1085.5 704.3 1086.3 702.5 1087.3 700.7 1088.3 699 1089.4 697.3 1090.5 695.7 1091.7 694.1 1092.8 692.4 1093.9 690.7 1095.1 689.1 1096.4 687.6 1097.9 686.2 1099.6 685.2 1101.4 684.4 1103.3 683.7 1105.1 683 1106.9 682 1108.6 681 1110.2 679.8 1111.5 678.3 1112.5 676.5 1113.3 674.7 1114.1 672.9 1115.3 671.3 1117 671.7 1118.2 673.2 1119.6 674.7 1121.4 675.5 1123.3 676 1125.3 676 1127.3 675.7 1129.1 675 1130.9 674.1 1132.8 673.3 1134.6 672.6 1136.6 672.2 1138.6 671.9 1140.6 671.7 1142.6 671.6 1144.6 671.5 1146.6 671.4 1148.6 671.2 1150.5 670.9 1152.5 670.6 1154.5 670.3 1156.4 669.9 1158.4 669.5 1160.4 669.1 1162.3 668.6 1164.3 668.2 1166.2 667.8 1168.2 667.5 1170.2 667.1 1172.1 666.8 1174.1 666.5 1176.1 666.3 1178.1 666.1 1180.1 665.9 1182.1 665.8 1184.1 665.8 1186.1 665.8 1188.1 665.8 1190.1 665.9 1192.1 666 1194.1 666.1 1196.1 666.2 1198.1 666.3 1200.1 666.4 1202.1 666.5 1204.1 666.7 1206.1 666.8 1208 666.9 1210 666.9 1212 667 1214 667 1216 667 1218 667 1220 666.9 1222 666.8 1224 666.7 1226 666.6 1228 666.4 1230 666.2 1232 666 1234 665.8 1236 665.6 1238 665.4 1240 665.2 1241.9 665 1243.9 664.8 1245.9 664.6 1247.9 664.4 1249.9 664.3 1251.9 664.1 1253.9 664 1255.9 663.8 1257.9 663.7 1259.9 663.6 1261.9 663.4 1263.9 663.3 1265.9 663.2 1267.9 663.1 1269.9 663 1271.9 662.9 1273.9 662.7 1275.9 662.6 1277.9 662.5 1279.8 662.4 1281.8 662.3 1283.8 662.2 1285.8 662.1 1287.8 662 1289.8 661.9 1291.8 661.8 1293.8 661.7 1295.8 661.6 1297.8 661.5 1299.8 661.5 1301.8 661.4 1303.8 661.3 1305.8 661.2 1307.8 661.1 1309.8 661 1311.8 661 1313.8 660.9 1315.8 660.8 1317.8 660.7" stroke="#008000" stroke-width="6.5"/>
<path d="M464.4 660.7L466.4 660.8 468.4 660.9 470.4 660.9 472.4 661 474.4 661.1 476.4 661.1 478.4 661.2 480.4 661.3 482.4 661.4 484.4 661.5 486.4 661.6 488.3 661.7 490.3 661.8 492.3 661.9 494.3 662 496.3 662.2 498.3 662.3 500.3 662.4 502.3 662.5 504.3 662.6 506.3 662.8 508.3 662.9 510.3 663 512.3 663.1 514.3 663.3 516.3 663.4 518.2 663.6 520.2 663.7 522.2 663.9 524.2 664 526.2 664.2 528.2 664.3 530.2 664.4 532.2 664.6 534.2 664.7 536.2 664.9 538.2 665 540.2 665.2 542.2 665.3 544.1 665.5 546.1 665.6 548.1 665.8 550.1 666 552.1 666.1 554.1 666.3 556.1 666.5 558.1 666.7 560.1 666.9 562 667.1 564 667.4 566 667.6 568 667.8 570 668.1 572 668.4 573.9 668.7 575.9 669 577.9 669.3 579.8 669.6 581.8 670 583.8 670.3 585.7 670.7 587.7 671 589.7 671.4 591.6 671.8 593.6 672.1 595.6 672.5 597.5 673 599.5 673.4 601.4 673.8 603.4 674.3 605.3 674.7 607.2 675.2 609.2 675.7 611.1 676.2 613 676.7 615 677.3 616.9 677.8 618.8 678.4 620.7 679 622.6 679.6 624.5 680.2 626.4 680.9 628.3 681.5 630.2 682.2 632 682.9 633.9 683.6 635.8 684.3 637.6 685 639.5 685.7 641.3 686.5 643.2 687.3 645 688 646.9 688.8 648.7 689.6 650.5 690.4 652.3 691.2 654.2 692.1 656 692.9 657.8 693.8 659.6 694.7 661.4 695.5 663.1 696.4 664.9 697.4 666.7 698.3 668.4 699.3 670.1 700.3 671.8 701.3 673.5 702.4 675.2 703.5 676.9 704.6 678.5 705.7 680.2 706.8 681.8 707.9 683.5 709.1 685.1 710.2 686.8 711.3 688.5 712.4 690.1 713.5 691.8 714.6 693.5 715.7 695.2 716.7 696.9 717.8 698.6 718.9 700.3 719.9 701.9 721 703.6 722.1 705.3 723.1 707 724.2 708.7 725.3 710.4 726.3 712.1 727.4 713.8 728.4 715.5 729.5 717.2 730.5 718.9 731.6 720.6 732.6 722.3 733.6 724 734.7 725.7 735.7 727.4 736.7 729.1 737.8 730.9 738.8 732.6 739.8 734.3 740.7 736.1 741.7 737.9 742.6 739.7 743.5 741.5 744.4 743.3 745.2 745.1 746.1 746.9 746.9 748.7 747.7 750.6 748.5 752.4 749.3 754.3 750 756.1 750.7 758 751.4 759.9 752.1 761.8 752.7 763.7 753.1 765.7 753.5 767.7 753.9 769.6 754.3 771.6 754.8 773.5 755.2 775.5 755.5 777.4 755.9 779.4 756.2 781.4 756.6 783.3 756.9 785.3 757.3 787.3 757.7 789.2 758.1 791.2 758.4 793.1 758.9 795.1 759.3 797 759.7 799 760.2 800.9 760.7 802.8 761.3 804.7 761.8 806.6 762.4 808.5 763.1 810.4 763.8 812.3 764.5 814.1 765.3 815.9 766.2 817.7 767.1 819.4 768 821.2 769 822.9 770 824.6 771 826.3 772.1 828 773.2 829.7 774.3 831.3 775.4 832.9 776.6 834.5 777.7 836.1 778.9 837.7 780.2 839.3 781.4 840.8 782.7 842.3 784 843.8 785.3 845.3 786.7 846.8 788 848.2 789.4 849.6 790.8 851 792.2 852.4 793.7 853.8 795.1 855.1 796.6 856.5 798.1 857.8 799.6 859 801.1 860.3 802.7 861.5 804.3 862.7 805.9 863.9 807.5 865 809.1 866.2 810.8 867.3 812.4 868.4 814.1 869.5 815.8 870.5 817.5 871.6 819.2 872.6 820.9 873.6 822.6 874.6 824.3 875.6 826.1 876.6 827.8 877.5 829.6 878.5 831.3 879.4 833.1 880.3 834.9 881.2 836.6 882.1 838.4 883 840.2 883.9 842 884.7 843.8 885.6 845.6 886.4 847.4 887.2 849.3 888 851.1 888.8 852.9 889.6 854.8 890.3 856.7 891 858.5 891.7 860.4 892.3 862.3 893 864.2 893.7 866 894.3 867.9 894.9 869.8 895.5 871.7 896.1 873.7 896.7 875.6 897.3 877.5 897.9 879.4 898.4 881.3 899 883.2 899.5 885.1 900.1 887.1 900.6 889 901.2 890.9 901.7 892.8 902.3 894.7 902.8 896.7 903.3 898.6 903.9 900.5 904.4 902.4 905 904.3 905.5 906.3 906.1 908.2 906.7 910.1 907.3 912 907.8 913.9 908.4 915.8 909 917.7 909.6 919.7 910.2 921.6 910.7 923.5 911.3 925.4 911.9 927.3 912.4 929.2 913 931.1 913.6 933.1 914.1 935 914.7 936.9 915.2 938.8 915.8 940.7 916.3 942.7 916.8 944.6 917.3 946.5 917.9 948.4 918.4 950.4 918.9 952.3 919.4 954.3 919.8 956.2 920.3 958.1 920.8 960.1 921.2 962 921.6 964 922 965.9 922.4 967.9 922.8 969.9 923.2 971.8 923.5 973.8 923.9 975.7 924.2 977.7 924.6 979.7 924.9 981.6 925.3 983.6 925.7 985.6 926 987.5 926.4 989.5 926.8 991.5 927.2 993.4 927.6 995.4 928 997.3 928.4 999.3 928.8 1001.2 929.2 1003.2 929.6 1005.1 930 1007.1 930.4 1009.1 930.8 1011 931.2 1013 931.5 1015 931.9 1016.9 932.2 1018.9 932.6 1020.9 932.9 1022.8 933.2 1024.8 933.5 1026.8 933.8 1028.8 934 1030.7 934.3 1032.7 934.5 1034.7 934.8 1036.7 935.1 1038.7 935.3 1040.6 935.6 1042.6 935.9 1044.6 936.1 1046.6 936.4 1048.5 936.7 1050.5 937 1052.5 937.4 1054.5 937.7 1056.4 938 1058.4 938.3 1060.4 938.7 1062.3 939 1064.3 939.4 1066.3 939.7 1068.3 940 1070.2 940.4 1072.2 940.7 1074.2 941 1076.1 941.4 1078.1 941.7 1080.1 942 1082 942.4 1084 942.7 1086 943 1088 943.3 1089.9 943.6 1091.9 944 1093.9 944.3 1095.8 944.6 1097.8 944.9 1099.8 945.2 1101.8 945.6 1103.7 945.9 1105.7 946.2 1107.7 946.6 1109.6 946.9 1111.6 947.2 1113.6 947.6 1115.5 948 1117.5 948.4 1119.5 948.7 1121.4 949.1 1123.4 949.5 1125.3 949.9 1127.3 950.3 1129.3 950.7 1131.2 951.1 1133.2 951.5 1135.1 951.8 1137.1 952.2 1139.1 952.6 1141 952.9 1143 953.3 1145 953.6 1146.9 953.9 1148.9 954.2 1150.9 954.6 1152.8 954.9 1154.8 955.2 1156.8 955.5 1158.8 955.7 1160.7 956 1162.7 956.3 1164.7 956.6 1166.7 956.8 1168.7 957.1 1170.6 957.3 1172.6 957.5 1174.6 957.7 1176.6 957.9 1178.6 958.1 1180.6 958.2 1182.6 958.4 1184.6 958.5 1186.6 958.6 1188.5 958.8 1190.5 958.9 1192.5 959 1194.5 959.1 1196.5 959.2 1198.5 959.4 1200.5 959.5 1202.5" stroke="#00ccff" stroke-width="6.5" stroke-linecap="round" stroke-dasharray="25 39" stroke-dashoffset="36.1"/>
<path d="M962 1203.5H972" stroke="#00ccff" stroke-width="6.5" stroke-linecap="round"/>
<path d="M974.5 1203L975 1201.1 975.6 1199.2 976.1 1197.2 976.7 1195.3 977.3 1193.4 977.8 1191.5 978.4 1189.6 979 1187.7 979.5 1185.7 980.1 1183.8 980.6 1181.9 981.2 1180 981.7 1178 982.2 1176.1 982.7 1174.2 983.1 1172.2 983.6 1170.3 984 1168.3 984.4 1166.4 984.8 1164.4 985.1 1162.4 985.5 1160.5 985.8 1158.5 986.1 1156.5 986.4 1154.6 986.7 1152.6 987 1150.6 987.3 1148.6 987.6 1146.7 987.9 1144.7 988.2 1142.7 988.5 1140.7 988.8 1138.7 989.1 1136.8 989.4 1134.8 989.6 1132.8 989.9 1130.8 990.2 1128.9 990.5 1126.9 990.7 1124.9 991 1122.9 991.3 1120.9 991.5 1119 991.8 1117 992 1115 992.3 1113 992.6 1111 992.8 1109.1 993.1 1107.1 993.4 1105.1 993.7 1103.1 993.9 1101.1 994.2 1099.2 994.5 1097.2 994.8 1095.2 995.1 1093.2 995.4 1091.3 995.7 1089.3 995.9 1087.3 996.2 1085.3 996.5 1083.3 996.8 1081.4 997 1079.4 997.3 1077.4 997.6 1075.4 997.8 1073.4 998.1 1071.5 998.3 1069.5 998.6 1067.5 998.8 1065.5 999 1063.5 999.3 1061.5 999.5 1059.6 999.8 1057.6 1000 1055.6 1000.2 1053.6 1000.4 1051.6 1000.7 1049.6 1000.9 1047.7 1001.1 1045.7 1001.3 1043.7 1001.5 1041.7 1001.7 1039.7 1001.8 1037.7 1002 1035.7 1002.2 1033.7 1002.3 1031.7 1002.4 1029.7 1002.6 1027.7 1002.7 1025.8 1002.9 1023.8 1003 1021.8 1003.2 1019.8 1003.4 1017.8 1003.6 1015.8 1003.7 1013.8 1004 1011.8 1004.2 1009.8 1004.4 1007.9 1004.7 1005.9 1004.9 1003.9 1005.2 1001.9 1005.5 999.9 1005.7 998 1006 996 1006.3 994 1006.6 992 1006.8 990 1007.1 988.1 1007.4 986.1 1007.6 984.1 1007.9 982.1 1008.1 980.1 1008.3 978.1 1008.5 976.2 1008.7 974.2 1008.9 972.2 1009.1 970.2 1009.2 968.2 1009.4 966.2 1009.5 964.2 1009.6 962.2 1009.7 960.2 1009.9 958.2 1010 956.2 1010.1 954.2 1010.2 952.2 1010.3 950.2 1010.4 948.3 1010.5 946.3 1010.6 944.3 1010.7 942.3 1010.8 940.3 1010.9 938.3 1011.1 936.3 1011.2 934.3 1011.3 932.3 1011.5 930.3 1011.6 928.3 1011.8 926.3 1012 924.3 1012.1 922.3 1012.3 920.4 1012.5 918.4 1012.7 916.4 1012.8 914.4 1013 912.4 1013.2 910.4 1013.4 908.4 1013.6 906.4 1013.8 904.4 1014 902.5 1014.2 900.5 1014.4 898.5 1014.6 896.5 1014.8 894.5 1015 892.5 1015.2 890.5 1015.4 888.5 1015.6 886.5 1015.8 884.6 1016 882.6 1016.2 880.6 1016.4 878.6 1016.6 876.6 1016.8 874.6 1017 872.6 1017.2 870.6 1017.4 868.7 1017.6 866.7 1017.8 864.7 1018 862.7 1018.2 860.7 1018.4 858.7 1018.6 856.7 1018.9 854.8 1019.1 852.8 1019.3 850.8 1019.6 848.8 1019.8 846.8 1020.1 844.8 1020.3 842.9 1020.6 840.9 1020.9 838.9 1021.3 836.9 1021.6 835 1022 833 1022.3 831 1022.7 829.1 1023 827.1 1023.4 825.1 1023.7 823.2 1024 821.2 1024.2 819.2 1024.5 817.2 1024.8 815.2 1025 813.3 1025.3 811.3 1025.5 809.3 1025.7 807.3 1026 805.3 1026.2 803.3 1026.4 801.4 1026.7 799.4 1026.9 797.4 1027.1 795.4 1027.4 793.4 1027.6 791.4 1027.9 789.5 1028.2 787.5 1028.5 785.5 1028.8 783.5 1029.1 781.6 1029.4 779.6 1029.7 777.6 1030 775.6 1030.3 773.7 1030.7 771.7 1031 769.7 1031.4 767.8 1031.8 765.8 1032.1 763.8 1032.5 761.9 1032.9 759.9 1033.3 758 1033.7 756 1034.2 754.1 1034.6 752.1 1035 750.2 1035.4 748.2 1035.9 746.2 1036.3 744.3 1036.8 742.4 1037.2 740.4 1037.7 738.5 1038.1 736.5 1038.6 734.6 1039.1 732.6 1039.6 730.7 1040.1 728.8 1040.6 726.8 1041.2 724.9 1041.7 723 1042.2 721.1 1042.8 719.1 1043.2 717.2 1043.7 715.3 1044.2 713.3 1044.8 711.4 1045.3 709.5 1045.9 707.6 1046.6 705.7 1047.4 703.9 1048.3 702.1 1049.3 700.3 1050.3 698.7 1051.5 697 1052.7 695.4 1053.9 693.9 1055.3 692.4 1056.6 690.9 1058 689.5 1059.5 688.1 1060.9 686.8 1062.5 685.5 1064.1 684.3 1065.7 683.1 1067.3 682 1069.1 681 1070.8 680.1 1072.7 679.3 1074.6 678.6 1076.5 678.1 1078.4 677.6 1080.4 677.3 1082.4 677 1084.4 676.8 1086.4 676.7 1088.4 676.6 1090.4 676.5 1092.3 676.4 1094.3 676.3 1096.3 676.2 1098.3 676.1 1100.3 676 1102.3 675.9 1104.3 675.9 1106.3 675.9 1108.3 675.9 1110.3 675.9 1112.3 676 1114.3 676 1116.3 676.1 1118.3 676.1 1120.3 676.1 1122.3 676.1 1124.3 676.1 1126.3 676.1 1128.3 676.1 1130.3 676 1132.3 675.8 1134.3 675.7 1136.3 675.6 1138.3 675.4 1140.3 675.3 1142.2 675.1 1144.2 675 1146.2 674.8 1148.2 674.7 1150.2 674.6 1152.2 674.4 1154.2 674.4 1156.2 674.3 1158.2 674.3 1160.2 674.3 1162.2 674.4 1164.2 674.5 1166.2 674.6 1168.2 674.8 1170.2 675 1172.1 675.3 1174.1 675.5 1176.1 675.8 1178.1 676 1180.1 676.2 1182.1 676.4 1184.1 676.6 1186 676.7 1188 676.8 1190 676.8 1192 676.8 1194 676.8 1196 676.8 1198 676.8 1200 676.8 1202 676.7 1204 676.6 1206 676.6 1208 676.5 1210 676.4 1212 676.3 1214 676.2 1216 676.1 1218 676 1220 675.9 1222 675.8 1224 675.7 1226 675.6 1228 675.5 1230 675.4 1232 675.3 1234 675.2 1236 675.1 1237.9 675 1239.9 674.9 1241.9 674.8 1243.9 674.7 1245.9 674.7 1247.9 674.6 1249.9 674.5 1251.9 674.5 1253.9 674.4 1255.9 674.3 1257.9 674.2 1259.9 674.2 1261.9 674.1 1263.9 674 1265.9 674 1267.9 673.9 1269.9 673.8 1271.9 673.8 1273.9 673.7 1275.9 673.6 1277.9 673.5 1279.9 673.5 1281.9 673.4 1283.9 673.3 1285.9 673.2 1287.9 673.1 1289.9 673.1 1291.9 673 1293.8 672.9 1295.8 672.8 1297.8 672.7 1299.8 672.7 1301.8 672.6 1303.8 672.5 1305.8 672.4 1307.8 672.3 1309.8 672.2 1311.8 672.1 1313.8 672.1 1315.8 672 1317.8 671.9" stroke="#00ccff" stroke-width="6.5" stroke-linecap="round" stroke-dasharray="25 39" stroke-dashoffset="30"/>
<path d="M464.4 651.9L466.4 652.1 468.4 652.3 470.4 652.4 472.4 652.6 474.4 652.8 476.3 653 478.3 653.2 480.3 653.3 482.3 653.5 484.3 653.7 486.3 653.9 488.3 654 490.3 654.2 492.3 654.3 494.3 654.5 496.3 654.7 498.3 654.8 500.2 655 502.2 655.1 504.2 655.3 506.2 655.4 508.2 655.6 510.2 655.8 512.2 656 514.2 656.1 516.2 656.3 518.2 656.5 520.2 656.7 522.1 656.9 524.1 657.1 526.1 657.3 528.1 657.5 530.1 657.7 532.1 657.9 534.1 658.1 536.1 658.3 538.1 658.6 540 658.8 542 659 544 659.2 546 659.4 548 659.6 550 659.8 552 660 554 660.3 555.9 660.5 557.9 660.7 559.9 661 561.9 661.2 563.9 661.5 565.9 661.8 567.8 662.1 569.8 662.4 571.8 662.7 573.8 663 575.7 663.3 577.7 663.6 579.7 663.9 581.7 664.2 583.6 664.6 585.6 664.9 587.6 665.3 589.5 665.6 591.5 666 593.4 666.4 595.4 666.9 597.3 667.3 599.3 667.7 601.2 668.2 603.2 668.7 605.1 669.2 607.1 669.6 609 670.2 610.9 670.7 612.8 671.2 614.8 671.7 616.7 672.3 618.6 672.9 620.5 673.5 622.4 674.1 624.3 674.7 626.2 675.3 628.1 676 630 676.7 631.9 677.4 633.7 678 635.6 678.8 637.5 679.5 639.3 680.2 641.2 681 643 681.7 644.9 682.5 646.7 683.3 648.5 684.1 650.3 685 652.1 685.9 653.9 686.7 655.7 687.7 657.5 688.6 659.2 689.6 660.9 690.6 662.7 691.6 664.4 692.6 666 693.7 667.7 694.8 669.4 695.9 671 697 672.7 698.2 674.3 699.3 676 700.4 677.6 701.6 679.3 702.7 680.9 703.8 682.6 704.9 684.2 706 685.9 707.1 687.6 708.2 689.3 709.3 691 710.3 692.7 711.3 694.4 712.4 696.1 713.4 697.9 714.4 699.6 715.5 701.3 716.5 703 717.5 704.7 718.6 706.4 719.6 708.1 720.7 709.8 721.8 711.5 722.8 713.1 723.9 714.8 725.1 716.4 726.2 718.1 727.3 719.7 728.5 721.3 729.6 723 730.8 724.6 732 726.2 733.1 727.8 734.3 729.5 735.5 731.1 736.6 732.7 737.8 734.4 738.9 736 740 737.7 741.1 739.4 742.2 741.1 743.2 742.8 744.3 744.5 745.3 746.2 746.3 748 747.3 749.7 748.3 751.4 749.3 753.2 750.3 754.9 751.4 756.5 752.4 758.2 753.5 759.9 754.6 761.6 755.6 763.4 756.6 765.2 757.5 767 758.3 768.8 759.1 770.7 759.8 772.6 760.5 774.5 761.1 776.4 761.7 778.3 762.2 780.2 762.7 782.2 763.3 784.1 763.8 786 764.2 788 764.7 789.9 765.2 791.9 765.7 793.8 766.1 795.8 766.6 797.7 767.1 799.6 767.5 801.6 768 803.5 768.4 805.5 768.9 807.4 769.3 809.4 769.7 811.4 770.1 813.3 770.5 815.3 770.9 817.2 771.3 819.2 771.7 821.1 772.1 823.1 772.6 825 773 827 773.5 828.9 774 830.9 774.5 832.8 775 834.7 775.5 836.7 776 838.6 776.5 840.5 777 842.5 777.5 844.4 778 846.3 778.6 848.2 779.2 850.1 779.8 852 780.4 853.9 781.1 855.8 781.8 857.6 782.5 859.5 783.3 861.3 784.1 863.1 784.9 865 785.7 866.8 786.6 868.6 787.5 870.4 788.3 872.2 789.2 873.9 790.1 875.7 791 877.5 792 879.3 792.9 881 793.8 882.8 794.8 884.5 795.8 886.3 796.7 888 797.7 889.8 798.7 891.5 799.7 893.2 800.7 895 801.7 896.7 802.7 898.4 803.8 900 804.9 901.7 806 903.3 807.2 904.9 808.4 906.4 809.7 907.9 811 909.4 812.4 910.8 813.8 912.2 815.2 913.6 816.6 915 818.1 916.4 819.5 917.8 820.9 919.2 822.3 920.7 823.7 922.1 825.1 923.6 826.4 925 827.8 926.4 829.2 927.9 830.6 929.3 832 930.7 833.4 932.1 834.8 933.5 836.2 934.9 837.7 936.3 839.1 937.7 840.6 939 842 940.4 843.5 941.7 845 943 846.5 944.3 848 945.6 849.6 946.9 851.1 948.2 852.6 949.5 854.2 950.7 855.7 952 857.3 953.2 858.9 954.4 860.4 955.6 862 956.8 863.7 957.9 865.3 959.1 867 960.2 868.6 961.3 870.3 962.3 872 963.3 873.7 964.4 875.4 965.4 877.2 966.3 878.9 967.3 880.7 968.2 882.4 969.2 884.2 970.1 886 971 887.7 971.9 889.5 972.8 891.3 973.7 893.1 974.6 894.9 975.5 896.7 976.4 898.5 977.3 900.2 978.2 902 979 903.8 979.9 905.6 980.8 907.4 981.6 909.2 982.5 911.1 983.3 912.9 984.2 914.7 985 916.5 985.8 918.3 986.6 920.1 987.4 922 988.2 923.8 989 925.6 989.8 927.5 990.6 929.3 991.4 931.2 992.1 933 992.8 934.9 993.6 936.7 994.3 938.6 995 940.5 995.7 942.4 996.4 944.2 997 946.1 997.7 948 998.4 949.9 999.1 951.8 999.7 953.6 1000.4 955.5 1001.1 957.4 1001.7 959.3 1002.4 961.2 1003 963.1 1003.7 965 1004.3 966.9 1004.9 968.8 1005.6 970.6 1006.2 972.5 1006.9 974.4 1007.5 976.3 1008.1 978.2 1008.7 980.1 1009.3 982 1009.9 983.9 1010.5 985.9 1011.1 987.8 1011.7 989.7 1012.3 991.6 1012.9 993.5 1013.6 995.4 1014.2 997.3 1014.8 999.2 1015.5 1001.1 1016.2 1002.9 1016.9 1004.8 1017.6 1006.7 1018.3 1008.5 1019 1010.4 1019.7 1012.3 1020.4 1014.2 1021 1016.1 1021.7 1018 1022.3 1019.9 1022.8 1021.8 1023.4 1023.7 1024 1025.6 1024.5 1027.5 1025.1 1029.5 1025.6 1031.4 1026.1 1033.3 1026.7 1035.2 1027.2 1037.2 1027.8 1039.1 1028.3 1041 1028.9 1042.9 1029.5 1044.8 1030.1 1046.7 1030.8 1048.6 1031.4 1050.5 1032.1 1052.4 1032.7 1054.3 1033.4 1056.1 1034.1 1058 1034.9 1059.9 1035.6 1061.7 1036.4 1063.6 1037.2 1065.4 1038 1067.2 1038.7 1069.1 1039.4 1071 1040.1 1072.9 1040.8 1074.7 1041.6 1076.6 1042.5 1078.3 1043.5 1080.1 1044.8 1081.6 1046.6 1082.3 1048.5 1081.7 1050.2 1080.6 1051.8 1079.4 1053.3 1078.1 1054.8 1076.8 1056.5 1075.7 1058.3 1074.8 1060.1 1074.1 1062 1073.3 1063.7 1072.3 1065.3 1071.1 1066.6 1069.6 1067.6 1067.9 1068.4 1066 1069.1 1064.1 1069.6 1062.2 1070.1 1060.3 1070.6 1058.3 1071 1056.4 1071.3 1054.4 1071.7 1052.4 1072.1 1050.5 1072.5 1048.5 1073 1046.6 1073.4 1044.6 1073.9 1042.7 1074.3 1040.7 1074.7 1038.8 1075 1036.8 1075.4 1034.8 1075.8 1032.9 1076.2 1030.9 1076.5 1028.9 1076.9 1027 1077.2 1025 1077.6 1023 1078 1021.1 1078.3 1019.1 1078.6 1017.1 1079 1015.2 1079.3 1013.2 1079.7 1011.2 1080 1009.3 1080.3 1007.3 1080.6 1005.3 1081 1003.3 1081.3 1001.4 1081.7 999.4 1082 997.4 1082.4 995.5 1082.7 993.5 1083.1 991.5 1083.5 989.6 1083.9 987.6 1084.4 985.7 1084.8 983.7 1085.3 981.8 1085.8 979.9 1086.3 977.9 1086.8 976 1087.2 974 1087.7 972.1 1088.1 970.1 1088.5 968.2 1088.8 966.2 1089.2 964.2 1089.5 962.3 1089.8 960.3 1090.1 958.3 1090.4 956.3 1090.7 954.4 1091 952.4 1091.3 950.4 1091.7 948.4 1092 946.5 1092.3 944.5 1092.6 942.5 1092.9 940.5 1093.2 938.6 1093.5 936.6 1093.8 934.6 1094 932.6 1094.2 930.6 1094.4 928.6 1094.6 926.7 1094.8 924.7 1095 922.7 1095.2 920.7 1095.5 918.7 1095.7 916.7 1095.9 914.7 1096.2 912.7 1096.4 910.8 1096.7 908.8 1097 906.8 1097.3 904.8 1097.6 902.9 1097.9 900.9 1098.3 898.9 1098.6 896.9 1098.9 895 1099.2 893 1099.5 891 1099.8 889 1100.1 887.1 1100.4 885.1 1100.7 883.1 1101 881.1 1101.2 879.1 1101.5 877.2 1101.8 875.2 1102.1 873.2 1102.4 871.2 1102.6 869.3 1102.9 867.3 1103.2 865.3 1103.5 863.3 1103.7 861.3 1104 859.4 1104.3 857.4 1104.5 855.4 1104.8 853.4 1105.1 851.4 1105.3 849.4 1105.6 847.5 1105.8 845.5 1106 843.5 1106.3 841.5 1106.5 839.5 1106.8 837.5 1107 835.6 1107.3 833.6 1107.6 831.6 1107.8 829.6 1108.1 827.6 1108.4 825.6 1108.6 823.7 1108.9 821.7 1109.2 819.7 1109.5 817.7 1109.7 815.8 1110 813.8 1110.3 811.8 1110.6 809.8 1110.9 807.8 1111.2 805.9 1111.6 803.9 1111.9 801.9 1112.2 800 1112.6 798 1112.9 796 1113.2 794 1113.6 792.1 1113.9 790.1 1114.3 788.1 1114.6 786.2 1115 784.2 1115.3 782.2 1115.7 780.3 1116 778.3 1116.4 776.3 1116.8 774.4 1117.1 772.4 1117.5 770.4 1117.9 768.5 1118.3 766.5 1118.6 764.6 1119 762.6 1119.4 760.6 1119.8 758.7 1120.2 756.7 1120.6 754.8 1121 752.8 1121.4 750.8 1121.8 748.9 1122.2 746.9 1122.5 744.9 1122.9 743 1123.3 741 1123.7 739.1 1124.1 737.1 1124.5 735.2 1124.9 733.2 1125.4 731.2 1125.8 729.3 1126.3 727.4 1126.7 725.4 1127.1 723.5 1127.6 721.5 1128 719.5 1128.4 717.6 1128.9 715.6 1129.3 713.7 1129.8 711.8 1130.3 709.8 1130.8 707.9 1131.3 706 1131.9 704 1132.5 702.1 1133.1 700.2 1133.8 698.4 1134.6 696.5 1135.5 694.7 1136.5 693 1137.5 691.3 1138.6 689.6 1139.7 687.9 1140.9 686.3 1142 684.7 1143.2 683.1 1144.3 681.4 1145.2 679.6 1146.2 677.9 1147.3 676.2 1148.8 674.8 1150.4 673.8 1152.3 673 1154.2 672.4 1156.1 672 1158.1 671.6 1160.1 671.4 1162.1 671.2 1164.1 671 1166.1 670.9 1168.1 670.7 1170.1 670.7 1172.1 670.6 1174.1 670.5 1176 670.5 1178 670.4 1180 670.4 1182 670.3 1184 670.2 1186 670.1 1188 670 1190 669.9 1192 669.8 1194 669.7 1196 669.6 1198 669.6 1200 669.5 1202 669.4 1204 669.4 1206 669.4 1208 669.3 1210 669.3 1212 669.3 1214 669.2 1216 669.2 1218 669.2 1220 669.2 1222 669.2 1224 669.2 1226 669.1 1228 669.1 1230 669.1 1232 669.1 1234 669.1 1236 669.1 1238 669.1 1240 669 1242 669 1244 669 1246 669 1248 668.9 1250 668.9 1252 668.9 1254 668.9 1256 668.9 1258 668.9 1260 668.9 1262 668.9 1264 668.9 1266 668.9 1268 668.9 1270 668.9 1272 668.9 1274 668.9 1276 668.8 1278 668.8 1280 668.7 1282 668.7 1284 668.6 1286 668.5 1288 668.4 1289.9 668.3 1291.9 668.1 1293.9 668 1295.9 667.8 1297.9 667.6 1299.9 667.4 1301.9 667.2 1303.9 667 1305.9 666.8 1307.9 666.6 1309.8 666.4 1311.8 666.2 1313.8 666 1315.8 665.8 1317.8 665.6" stroke="#0000ff" stroke-width="6.5" stroke-linecap="round" stroke-dasharray="24.5 16.5 3.5 17.5" stroke-dashoffset="16.7"/>
<path d="M464.4 655.6L466.4 655.7 468.4 655.8 470.4 655.9 472.4 656 474.4 656 476.4 656.1 478.4 656.2 480.4 656.3 482.4 656.4 484.4 656.5 486.4 656.7 488.3 656.8 490.3 657 492.3 657.2 494.3 657.4 496.3 657.6 498.3 657.8 500.3 658.1 502.2 658.4 504.2 658.6 506.2 658.9 508.2 659.2 510.2 659.5 512.1 659.7 514.1 660 516.1 660.3 518.1 660.5 520.1 660.7 522 661 524 661.2 526 661.5 528 661.7 530 662 532 662.3 533.9 662.5 535.9 662.8 537.9 663.1 539.9 663.5 541.8 663.8 543.8 664.2 545.8 664.6 547.7 664.9 549.7 665.3 551.6 665.8 553.6 666.2 555.5 666.6 557.5 667 559.4 667.4 561.4 667.8 563.4 668.2 565.3 668.6 567.3 669 569.2 669.4 571.2 669.8 573.2 670.2 575.1 670.6 577.1 671 579 671.4 581 671.9 582.9 672.4 584.8 672.9 586.8 673.4 588.7 674 590.6 674.6 592.5 675.2 594.4 675.8 596.3 676.4 598.2 677 600.1 677.7 602 678.3 603.9 679 605.8 679.6 607.7 680.2 609.6 680.8 611.5 681.4 613.4 682 615.3 682.6 617.2 683.2 619.1 683.8 621 684.4 622.9 685.1 624.8 685.7 626.6 686.4 628.5 687.2 630.4 687.9 632.2 688.7 634 689.5 635.9 690.3 637.7 691.1 639.5 691.9 641.3 692.8 643.1 693.7 644.9 694.6 646.7 695.5 648.4 696.4 650.2 697.3 652 698.3 653.7 699.2 655.5 700.2 657.2 701.2 658.9 702.2 660.6 703.2 662.4 704.2 664.1 705.3 665.8 706.3 667.5 707.4 669.2 708.4 670.9 709.5 672.5 710.6 674.2 711.6 675.9 712.7 677.6 713.8 679.3 714.8 681 715.9 682.7 717 684.3 718.1 686 719.2 687.7 720.3 689.3 721.4 691 722.5 692.6 723.7 694.2 724.9 695.8 726.1 697.4 727.3 699 728.5 700.5 729.8 702.1 731 703.6 732.3 705.1 733.6 706.6 734.9 708.1 736.2 709.6 737.6 711.1 738.9 712.6 740.2 714.1 741.6 715.5 743 717 744.3 718.4 745.7 719.9 747.1 721.3 748.5 722.7 749.9 724.1 751.4 725.5 752.8 726.9 754.2 728.3 755.7 729.7 757.1 731 758.5 732.4 760 733.8 761.4 735.2 762.8 736.6 764.3 738 765.7 739.4 767.1 740.8 768.6 742.1 770 743.5 771.5 744.9 772.9 746.3 774.4 747.6 775.8 749 777.3 750.3 778.8 751.7 780.3 753 781.7 754.4 783.2 755.7 784.7 757.1 786.2 758.4 787.7 759.7 789.1 761.1 790.6 762.4 792.1 763.7 793.6 765 795.1 766.3 796.6 767.7 798.1 769 799.7 770.3 801.2 771.6 802.7 772.9 804.2 774.2 805.7 775.5 807.2 776.8 808.7 778.1 810.2 779.4 811.7 780.7 813.2 782.1 814.7 783.4 816.2 784.8 817.6 786.2 819.1 787.6 820.5 789 821.9 790.4 823.4 791.8 824.8 793.2 826.2 794.6 827.7 795.9 829.1 797.3 830.6 798.6 832.1 799.9 833.6 801.2 835.1 802.5 836.6 803.8 838.2 805.1 839.7 806.3 841.3 807.6 842.8 808.8 844.4 810.1 845.9 811.3 847.5 812.6 849.1 813.8 850.6 815.1 852.2 816.4 853.7 817.6 855.2 818.9 856.8 820.2 858.3 821.5 859.8 822.7 861.4 824 862.9 825.3 864.5 826.6 866 827.8 867.6 829.1 869.1 830.3 870.7 831.5 872.3 832.8 873.8 834 875.4 835.2 877 836.4 878.6 837.6 880.2 838.8 881.8 840 883.4 841.2 885 842.4 886.6 843.5 888.2 844.7 889.9 845.9 891.5 847 893.1 848.1 894.8 849.3 896.4 850.4 898.1 851.5 899.7 852.6 901.4 853.7 903.1 854.8 904.7 855.9 906.4 857 908.1 858.1 909.8 859.2 911.4 860.3 913.1 861.4 914.7 862.5 916.4 863.6 918.1 864.7 919.8 865.8 921.4 866.9 923.1 868 924.8 869.1 926.4 870.2 928.1 871.3 929.8 872.4 931.4 873.6 933.1 874.7 934.7 875.9 936.3 877.1 937.9 878.4 939.4 879.6 941 880.8 942.6 882 944.2 883.2 945.8 884.4 947.4 885.5 949.1 886.6 950.7 887.7 952.4 888.7 954.1 889.8 955.8 890.8 957.5 891.9 959.2 892.9 960.9 894 962.6 895 964.3 896.1 966 897.2 967.7 898.3 969.3 899.4 971 900.4 972.7 901.5 974.4 902.5 976.1 903.6 977.8 904.7 979.4 905.9 981.1 907.1 982.7 908.3 984.2 909.7 985.7 911.2 987.1 912.7 988.3 914.3 989.5 916 990.6 917.7 991.7 919.4 992.7 921.1 993.7 922.8 994.7 924.5 995.7 926.4 996.6 928.3 997 930.3 996.9 932.2 996.4 934.1 995.7 935.9 994.8 937.6 993.8 939.3 992.7 940.9 991.5 942.4 990.2 943.9 988.8 945.2 987.3 946.4 985.7 947.5 984.1 948.5 982.4 949.5 980.6 950.4 978.8 951.2 977 952.1 975.2 952.9 973.4 953.7 971.5 954.5 969.7 955.3 967.9 956.1 966.1 956.9 964.2 957.7 962.4 958.4 960.5 959.2 958.7 959.9 956.8 960.6 955 961.3 953.1 962 951.2 962.7 949.3 963.3 947.4 963.9 945.5 964.5 943.6 965.1 941.7 965.7 939.8 966.2 937.9 966.7 935.9 967.1 934 967.6 932 967.9 930.1 968.3 928.1 968.6 926.1 969 924.2 969.3 922.2 969.6 920.2 969.9 918.3 970.3 916.3 970.6 914.3 971 912.4 971.3 910.4 971.7 908.4 972.1 906.5 972.5 904.5 973 902.6 973.4 900.6 973.8 898.7 974.3 896.7 974.7 894.8 975.2 892.8 975.6 890.9 976.1 888.9 976.5 887 976.9 885 977.4 883.1 977.8 881.1 978.2 879.2 978.7 877.2 979.1 875.3 979.5 873.3 980 871.4 980.4 869.4 980.8 867.5 981.3 865.5 981.7 863.6 982.1 861.6 982.5 859.7 983 857.7 983.4 855.8 983.8 853.8 984.2 851.8 984.6 849.9 985 847.9 985.3 846 985.7 844 986.1 842 986.4 840.1 986.8 838.1 987.2 836.1 987.5 834.2 987.9 832.2 988.3 830.2 988.6 828.3 989 826.3 989.3 824.4 989.7 822.4 990.1 820.4 990.4 818.5 990.8 816.5 991.2 814.5 991.5 812.6 991.9 810.6 992.2 808.6 992.6 806.7 992.9 804.7 993.3 802.7 993.7 800.8 994.1 798.8 994.4 796.8 994.8 794.9 995.2 792.9 995.6 791 996 789 996.4 787.1 996.8 785.1 997.2 783.1 997.6 781.2 998.1 779.2 998.5 777.3 998.9 775.3 999.3 773.4 999.8 771.4 1000.2 769.5 1000.7 767.5 1001.2 765.6 1001.7 763.7 1002.1 761.7 1002.6 759.8 1003.1 757.8 1003.6 755.9 1004 754 1004.5 752 1005 750.1 1005.6 748.2 1006.1 746.2 1006.7 744.3 1007.2 742.4 1007.9 740.5 1008.5 738.6 1009.2 736.7 1009.8 734.8 1010.5 733 1011.2 731.1 1011.9 729.2 1012.6 727.4 1013.3 725.5 1014.1 723.6 1014.9 721.8 1015.7 720 1016.6 718.2 1017.5 716.4 1018.4 714.7 1019.5 712.9 1020.6 711.3 1021.8 709.7 1023 708.1 1024.4 706.6 1025.7 705.2 1027.2 703.8 1028.7 702.5 1030.2 701.2 1031.8 699.9 1033.3 698.7 1034.9 697.5 1036.5 696.3 1038.1 695.1 1039.7 693.8 1041.2 692.6 1042.8 691.3 1044.3 690 1045.8 688.7 1047.4 687.5 1048.9 686.2 1050.5 685 1052.1 683.8 1053.8 682.7 1055.5 681.7 1057.3 680.8 1059.2 680.1 1061.1 679.7 1063.1 679.7 1065.1 680.1 1067 680.6 1068.9 681.2 1070.8 681.8 1072.8 682.3 1074.7 682.6 1076.7 682.7 1078.7 682.6 1080.7 682.5 1082.7 682.4 1084.7 682.2 1086.7 682 1088.7 681.8 1090.7 681.6 1092.7 681.4 1094.6 681.2 1096.6 681 1098.6 680.8 1100.6 680.6 1102.6 680.4 1104.6 680.1 1106.6 679.9 1108.6 679.7 1110.5 679.4 1112.5 679.2 1114.5 679 1116.5 678.7 1118.5 678.5 1120.5 678.2 1122.4 678 1124.4 677.7 1126.4 677.4 1128.4 677.2 1130.4 676.9 1132.3 676.7 1134.3 676.5 1136.3 676.3 1138.3 676.1 1140.3 675.9 1142.3 675.7 1144.3 675.6 1146.3 675.5 1148.3 675.3 1150.3 675.2 1152.3 675.1 1154.3 675 1156.2 674.9 1158.2 674.8 1160.2 674.7 1162.2 674.6 1164.2 674.5 1166.2 674.4 1168.2 674.3 1170.2 674.2 1172.2 674.1 1174.2 674 1176.2 673.9 1178.2 673.7 1180.2 673.6 1182.2 673.5 1184.2 673.4 1186.2 673.2 1188.2 673.1 1190.2 673 1192.2 672.8 1194.1 672.7 1196.1 672.5 1198.1 672.4 1200.1 672.2 1202.1 672.1 1204.1 672 1206.1 671.8 1208.1 671.7 1210.1 671.5 1212.1 671.4 1214.1 671.2 1216.1 671.1 1218.1 670.9 1220 670.8 1222 670.6 1224 670.5 1226 670.3 1228 670.2 1230 670 1232 669.9 1234 669.8 1236 669.6 1238 669.5 1240 669.3 1242 669.2 1244 669.1 1246 668.9 1247.9 668.8 1249.9 668.6 1251.9 668.5 1253.9 668.4 1255.9 668.2 1257.9 668.1 1259.9 668 1261.9 667.8 1263.9 667.7 1265.9 667.6 1267.9 667.5 1269.9 667.3 1271.9 667.2 1273.9 667.1 1275.9 667 1277.9 666.9 1279.9 666.8 1281.9 666.7 1283.9 666.7 1285.8 666.6 1287.8 666.5 1289.8 666.4 1291.8 666.4 1293.8 666.3 1295.8 666.3 1297.8 666.2 1299.8 666.1 1301.8 666.1 1303.8 666 1305.8 666 1307.8 665.9 1309.8 665.8 1311.8 665.8 1313.8 665.7 1315.8 665.7 1317.8 665.6" stroke="#ff8000" stroke-width="6.5" stroke-linecap="round" stroke-dasharray="9 16.8"/>
</g>
<path d="M261.5 58.5V1448M261.5 1445.5H1984M231 1445.5H261.5M245.5 1417.8H261.5M245.5 1390.1H261.5M245.5 1362.4H261.5M245.5 1334.7H261.5M231 1307H261.5M245.5 1279.4H261.5M245.5 1251.7H261.5M245.5 1224H261.5M245.5 1196.3H261.5M231 1168.6H261.5M245.5 1140.9H261.5M245.5 1113.2H261.5M245.5 1085.5H261.5M245.5 1057.8H261.5M231 1030.2H261.5M245.5 1002.5H261.5M245.5 974.8H261.5M245.5 947.1H261.5M245.5 919.4H261.5M231 891.7H261.5M245.5 864H261.5M245.5 836.3H261.5M245.5 808.6H261.5M245.5 780.9H261.5M231 753.2H261.5M245.5 725.6H261.5M245.5 697.9H261.5M245.5 670.2H261.5M245.5 642.5H261.5M231 614.8H261.5M245.5 587.1H261.5M245.5 559.4H261.5M245.5 531.7H261.5M245.5 504H261.5M231 476.4H261.5M245.5 448.7H261.5M245.5 421H261.5M245.5 393.3H261.5M245.5 365.6H261.5M231 337.9H261.5M245.5 310.2H261.5M245.5 282.5H261.5M245.5 254.8H261.5M245.5 227.1H261.5M231 199.5H261.5M245.5 171.8H261.5M245.5 144.1H261.5M245.5 116.4H261.5M245.5 88.7H261.5M231 61H261.5M261.5 1445.5V1461M333.2 1445.5V1461M404.8 1445.5V1461M476.5 1445.5V1461M548.2 1445.5V1474M619.8 1445.5V1461M691.5 1445.5V1461M763.2 1445.5V1461M834.8 1445.5V1461M906.5 1445.5V1474M978.2 1445.5V1461M1049.8 1445.5V1461M1121.5 1445.5V1461M1193.2 1445.5V1461M1264.8 1445.5V1474M1336.5 1445.5V1461M1408.2 1445.5V1461M1479.8 1445.5V1461M1551.5 1445.5V1461M1623.2 1445.5V1474M1694.8 1445.5V1461M1766.5 1445.5V1461M1838.2 1445.5V1461M1909.8 1445.5V1461M1981.5 1445.5V1474" stroke="#000" stroke-width="5" fill="none"/>
<text class="sb" x="214.5" y="1464.5" font-size="66" text-anchor="end">0</text>
<text class="sb" x="214.5" y="1326" font-size="66" text-anchor="end">10</text>
<text class="sb" x="214.5" y="1187.6" font-size="66" text-anchor="end">20</text>
<text class="sb" x="214.5" y="1049.2" font-size="66" text-anchor="end">30</text>
<text class="sb" x="214.5" y="910.7" font-size="66" text-anchor="end">40</text>
<text class="sb" x="214.5" y="772.2" font-size="66" text-anchor="end">50</text>
<text class="sb" x="214.5" y="633.8" font-size="66" text-anchor="end">60</text>
<text class="sb" x="214.5" y="495.4" font-size="66" text-anchor="end">70</text>
<text class="sb" x="214.5" y="356.9" font-size="66" text-anchor="end">80</text>
<text class="sb" x="214.5" y="218.5" font-size="66" text-anchor="end">90</text>
<text class="sb" x="214.5" y="80" font-size="66" text-anchor="end">100</text>
<text class="sb" x="548.2" y="1543" font-size="66" text-anchor="middle">100</text>
<text class="sb" x="906.5" y="1543" font-size="66" text-anchor="middle">200</text>
<text class="sb" x="1264.8" y="1543" font-size="66" text-anchor="middle">300</text>
<text class="sb" x="1623.2" y="1543" font-size="66" text-anchor="middle">400</text>
<text class="sb" x="1981.5" y="1543" font-size="66" text-anchor="middle">500</text>
<text class="sr" x="0" y="0" font-size="92" text-anchor="middle" transform="translate(87 751.5) rotate(-90)">W (%)</text>
<text class="sr" x="1120.5" y="1680" font-size="92" text-anchor="middle">T (°C)</text>
<path d="M465 616V1314M465 1312H1321.5M449 649.5H465M457 732.3H465M449 815.1H465M457 897.9H465M449 980.8H465M457 1063.6H465M449 1146.4H465M457 1229.2H465M449 1312H465M465 1312V1327M500.6 1312V1320M536.2 1312V1320M571.8 1312V1320M607.4 1312V1327M643 1312V1320M678.6 1312V1320M714.2 1312V1320M749.8 1312V1327M785.4 1312V1320M821 1312V1320M856.6 1312V1320M892.2 1312V1327M927.9 1312V1320M963.5 1312V1320M999.1 1312V1320M1034.7 1312V1327M1070.3 1312V1320M1105.9 1312V1320M1141.5 1312V1320M1177.1 1312V1327M1212.7 1312V1320M1248.3 1312V1320M1283.9 1312V1320M1319.5 1312V1327" stroke="#000" stroke-width="4" fill="none"/>
<text class="sb" x="440" y="659.5" font-size="32" text-anchor="end">0.000</text>
<text class="sb" x="440" y="825.1" font-size="32" text-anchor="end">-0.005</text>
<text class="sb" x="440" y="990.8" font-size="32" text-anchor="end">-0.010</text>
<text class="sb" x="440" y="1156.4" font-size="32" text-anchor="end">-0.015</text>
<text class="sb" x="440" y="1322" font-size="32" text-anchor="end">-0.020</text>
<text class="sb" x="465" y="1359.5" font-size="32" text-anchor="middle">200</text>
<text class="sb" x="607.4" y="1359.5" font-size="32" text-anchor="middle">240</text>
<text class="sb" x="749.8" y="1359.5" font-size="32" text-anchor="middle">280</text>
<text class="sb" x="892.2" y="1359.5" font-size="32" text-anchor="middle">320</text>
<text class="sb" x="1034.7" y="1359.5" font-size="32" text-anchor="middle">360</text>
<text class="sb" x="1177.1" y="1359.5" font-size="32" text-anchor="middle">400</text>
<text class="sb" x="1319.5" y="1359.5" font-size="32" text-anchor="middle">440</text>
<text class="sr" x="891" y="1416" font-size="46" text-anchor="middle">T (°C)</text>
<text class="sr" x="0" y="0" font-size="46" text-anchor="middle" transform="translate(324.8 998) rotate(-90)">dW/dT (%/°C)</text>
<rect x="1453.6" y="90.9" width="497.4" height="400.5" fill="none" stroke="#000" stroke-width="2.2"/>
<path d="M1463.5 146.5H1638" stroke="#008000" stroke-width="7" stroke-linecap="round"/>
<path d="M1463.5 243.6H1640" stroke="#00ccff" stroke-width="7" stroke-linecap="round" stroke-dasharray="29 37"/>
<path d="M1463.5 340.6H1640" stroke="#0000ff" stroke-width="7" stroke-linecap="round" stroke-dasharray="35 22 5 22"/>
<path d="M1463.5 437.5H1640" stroke="#ff8000" stroke-width="7" stroke-linecap="round" stroke-dasharray="10.5 19.8"/>
<text class="sr" x="1656" y="172.6" font-size="72.5">Untreated</text>
<text class="sr" x="1656" y="269.6" font-size="72.5">M50</text>
<text class="sr" x="1656" y="366" font-size="72.5">A0</text>
<text class="sr" x="1656" y="462.4" font-size="72.5">A2</text>
</svg>
</body></html>
